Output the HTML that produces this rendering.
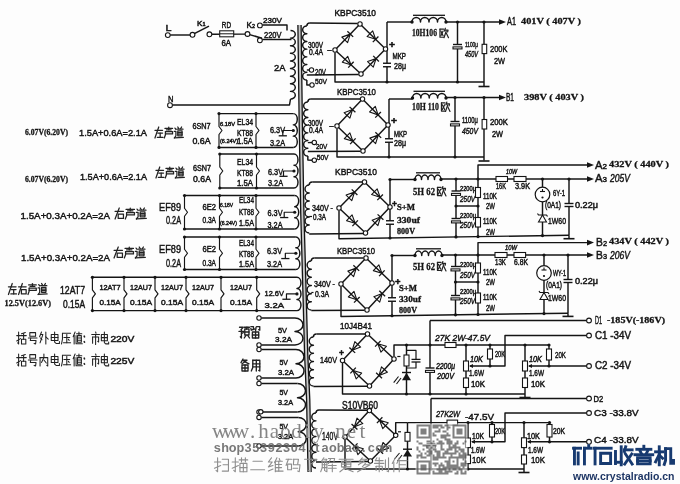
<!DOCTYPE html>
<html><head><meta charset="utf-8"><style>
html,body{margin:0;padding:0;background:#fff;width:680px;height:484px;overflow:hidden;}
svg{display:block;will-change:transform;}
</style></head><body>
<svg width="680" height="484" viewBox="0 0 680 484">
<rect width="680" height="484" fill="#fdfdfd"/>
<polygon points="297.90,25 299.20,125 300.70,212 303.00,295 304.60,355 306.60,400 308.06,472 311.26,472 309.80,400 307.80,355 306.20,295 303.90,212 302.40,125 301.10,25" fill="#c8c8c8"/><polyline points="297.9,25 299.2,125 300.7,212 303.0,295 304.6,355 306.6,400 308.06,472" fill="none" stroke="#141414" stroke-width="1.3" stroke-linejoin="round"/><polyline points="301.1,25 302.4,125 303.9,212 306.2,295 307.8,355 309.8,400 311.26,472" fill="none" stroke="#141414" stroke-width="1.3" stroke-linejoin="round"/><line x1="170.2" y1="35" x2="190.2" y2="35" stroke="#141414" stroke-width="1.45"/><line x1="194.3" y1="33.6" x2="209" y2="26.2" stroke="#141414" stroke-width="1.45"/><line x1="211.8" y1="34.2" x2="245.2" y2="34.1" stroke="#141414" stroke-width="1.45"/><rect x="219.7" y="30.8" width="14" height="6" fill="#fff" stroke="#1c1c1c" stroke-width="1.1"/><line x1="219.7" y1="33.8" x2="233.7" y2="33.8" stroke="#141414" stroke-width="1.0"/><line x1="249.6" y1="34.6" x2="262" y2="38.2" stroke="#141414" stroke-width="1.45"/><polyline points="262.3,25 287,25 287,30.5" fill="none" stroke="#141414" stroke-width="1.45" stroke-linejoin="round"/><polyline points="262.3,39.5 291.5,39.5" fill="none" stroke="#141414" stroke-width="1.45" stroke-linejoin="round"/><path d="M290.5,30.5 A4.8,3.8055555555555554 0 0 1 290.5,38.111111111111114 A4.8,3.8055555555555554 0 0 1 290.5,45.72222222222222 A4.8,3.8055555555555554 0 0 1 290.5,53.33333333333333 A4.8,3.8055555555555554 0 0 1 290.5,60.94444444444444 A4.8,3.8055555555555554 0 0 1 290.5,68.55555555555556 A4.8,3.8055555555555554 0 0 1 290.5,76.16666666666666 A4.8,3.8055555555555554 0 0 1 290.5,83.77777777777777 A4.8,3.8055555555555554 0 0 1 290.5,91.38888888888889 A4.8,3.8055555555555554 0 0 1 290.5,99.0 " fill="none" stroke="#141414" stroke-width="1.45" stroke-linejoin="round"/><polyline points="172.4,105 289.5,105 290.5,99" fill="none" stroke="#141414" stroke-width="1.45" stroke-linejoin="round"/><text x="165.5" y="30.6" font-family="Liberation Sans" font-size="9.17" font-weight="normal" font-style="normal" fill="#141414" textLength="6.0" lengthAdjust="spacingAndGlyphs" stroke="#141414" stroke-width="0.45">L</text><text x="197" y="25.6" font-family="Liberation Sans" font-size="7.36" font-weight="normal" font-style="normal" fill="#141414" textLength="8.5" lengthAdjust="spacingAndGlyphs" stroke="#141414" stroke-width="0.45">K<tspan font-size="5">1</tspan></text><text x="221.8" y="27.5" font-family="Liberation Sans" font-size="8.61" font-weight="normal" font-style="normal" fill="#141414" textLength="9.2" lengthAdjust="spacingAndGlyphs" stroke="#141414" stroke-width="0.45">RD</text><text x="221.4" y="46" font-family="Liberation Sans" font-size="8.33" font-weight="normal" font-style="normal" fill="#141414" textLength="9.6" lengthAdjust="spacingAndGlyphs" stroke="#141414" stroke-width="0.45">6A</text><text x="246.5" y="27.5" font-family="Liberation Sans" font-size="8.61" font-weight="normal" font-style="normal" fill="#141414" textLength="8.5" lengthAdjust="spacingAndGlyphs" stroke="#141414" stroke-width="0.45">K<tspan font-size="5.5">2</tspan></text><text x="263" y="23.4" font-family="Liberation Sans" font-size="7.78" font-weight="normal" font-style="normal" fill="#141414" textLength="19.0" lengthAdjust="spacingAndGlyphs" stroke="#141414" stroke-width="0.45">230V</text><text x="264" y="37.6" font-family="Liberation Sans" font-size="8.33" font-weight="normal" font-style="normal" fill="#141414" textLength="17.5" lengthAdjust="spacingAndGlyphs" stroke="#141414" stroke-width="0.45">220V</text><text x="274" y="71" font-family="Liberation Sans" font-size="9.72" font-weight="normal" font-style="normal" fill="#141414" textLength="11.5" lengthAdjust="spacingAndGlyphs" stroke="#141414" stroke-width="0.45">2A</text><text x="168" y="101.5" font-family="Liberation Sans" font-size="9.72" font-weight="normal" font-style="normal" fill="#141414" textLength="5.5" lengthAdjust="spacingAndGlyphs" stroke="#141414" stroke-width="0.45">N</text><line x1="219" y1="113.6" x2="293.2948275862069" y2="113.6" stroke="#141414" stroke-width="1.45"/><line x1="219" y1="147.4" x2="293.2948275862069" y2="147.4" stroke="#141414" stroke-width="1.45"/><path d="M293.2948275862069,113.6 A4,5.6333333333333355 0 0 1 293.2948275862069,124.86666666666666 A4,5.6333333333333355 0 0 1 293.2948275862069,136.13333333333333 A4,5.6333333333333355 0 0 1 293.2948275862069,147.4 " fill="none" stroke="#141414" stroke-width="1.45" stroke-linejoin="round"/><polyline points="219,113.6 219,126.5 222,130.5 219,134.5 219,147.4" fill="none" stroke="#141414" stroke-width="1.15" stroke-linejoin="round"/><circle cx="219" cy="113.6" r="1.6" fill="#141414"/><circle cx="219" cy="147.4" r="1.6" fill="#141414"/><polyline points="256,113.6 256,126.5 259,130.5 256,134.5 256,147.4" fill="none" stroke="#141414" stroke-width="1.15" stroke-linejoin="round"/><circle cx="256" cy="113.6" r="1.6" fill="#141414"/><circle cx="256" cy="147.4" r="1.6" fill="#141414"/><polyline points="293.2948275862069,130.5 282.7948275862069,130.5 282.7948275862069,135.8" fill="none" stroke="#141414" stroke-width="1.2" stroke-linejoin="round"/><line x1="278.6948275862069" y1="135.8" x2="286.89482758620693" y2="135.8" stroke="#141414" stroke-width="1.3"/><circle cx="293.2948275862069" cy="130.5" r="1.6" fill="#141414"/><line x1="219.8" y1="154" x2="293.99310344827586" y2="154" stroke="#141414" stroke-width="1.45"/><line x1="219.8" y1="188" x2="293.99310344827586" y2="188" stroke="#141414" stroke-width="1.45"/><path d="M293.99310344827586,154 A4,5.666666666666667 0 0 1 293.99310344827586,165.33333333333334 A4,5.666666666666667 0 0 1 293.99310344827586,176.66666666666666 A4,5.666666666666667 0 0 1 293.99310344827586,188.0 " fill="none" stroke="#141414" stroke-width="1.45" stroke-linejoin="round"/><polyline points="219.8,154 219.8,167.0 222.8,171.0 219.8,175.0 219.8,188" fill="none" stroke="#141414" stroke-width="1.15" stroke-linejoin="round"/><circle cx="219.8" cy="154" r="1.6" fill="#141414"/><circle cx="219.8" cy="188" r="1.6" fill="#141414"/><polyline points="256.5,154 256.5,167.0 259.5,171.0 256.5,175.0 256.5,188" fill="none" stroke="#141414" stroke-width="1.15" stroke-linejoin="round"/><circle cx="256.5" cy="154" r="1.6" fill="#141414"/><circle cx="256.5" cy="188" r="1.6" fill="#141414"/><polyline points="293.99310344827586,171.0 283.49310344827586,171.0 283.49310344827586,176.3" fill="none" stroke="#141414" stroke-width="1.2" stroke-linejoin="round"/><line x1="279.39310344827584" y1="176.3" x2="287.5931034482759" y2="176.3" stroke="#141414" stroke-width="1.3"/><circle cx="293.99310344827586" cy="171.0" r="1.6" fill="#141414"/><line x1="184.5" y1="195.5" x2="294.7069277108434" y2="195.5" stroke="#141414" stroke-width="1.45"/><line x1="184.5" y1="229" x2="294.7069277108434" y2="229" stroke="#141414" stroke-width="1.45"/><path d="M294.7069277108434,195.5 A4,5.583333333333333 0 0 1 294.7069277108434,206.66666666666666 A4,5.583333333333333 0 0 1 294.7069277108434,217.83333333333334 A4,5.583333333333333 0 0 1 294.7069277108434,229.0 " fill="none" stroke="#141414" stroke-width="1.45" stroke-linejoin="round"/><polyline points="184.5,195.5 184.5,208.25 187.5,212.25 184.5,216.25 184.5,229" fill="none" stroke="#141414" stroke-width="1.15" stroke-linejoin="round"/><circle cx="184.5" cy="195.5" r="1.6" fill="#141414"/><circle cx="184.5" cy="229" r="1.6" fill="#141414"/><polyline points="219.5,195.5 219.5,208.25 222.5,212.25 219.5,216.25 219.5,229" fill="none" stroke="#141414" stroke-width="1.15" stroke-linejoin="round"/><circle cx="219.5" cy="195.5" r="1.6" fill="#141414"/><circle cx="219.5" cy="229" r="1.6" fill="#141414"/><polyline points="256,195.5 256,208.25 259,212.25 256,216.25 256,229" fill="none" stroke="#141414" stroke-width="1.15" stroke-linejoin="round"/><circle cx="256" cy="195.5" r="1.6" fill="#141414"/><circle cx="256" cy="229" r="1.6" fill="#141414"/><polyline points="294.7069277108434,212.25 284.2069277108434,212.25 284.2069277108434,217.55" fill="none" stroke="#141414" stroke-width="1.2" stroke-linejoin="round"/><line x1="280.10692771084337" y1="217.55" x2="288.3069277108434" y2="217.55" stroke="#141414" stroke-width="1.3"/><circle cx="294.7069277108434" cy="212.25" r="1.6" fill="#141414"/><line x1="184.5" y1="237" x2="295.8430722891566" y2="237" stroke="#141414" stroke-width="1.45"/><line x1="184.5" y1="269.5" x2="295.8430722891566" y2="269.5" stroke="#141414" stroke-width="1.45"/><path d="M295.8430722891566,237 A4,5.416666666666667 0 0 1 295.8430722891566,247.83333333333334 A4,5.416666666666667 0 0 1 295.8430722891566,258.6666666666667 A4,5.416666666666667 0 0 1 295.8430722891566,269.5 " fill="none" stroke="#141414" stroke-width="1.45" stroke-linejoin="round"/><polyline points="184.5,237 184.5,249.25 187.5,253.25 184.5,257.25 184.5,269.5" fill="none" stroke="#141414" stroke-width="1.15" stroke-linejoin="round"/><circle cx="184.5" cy="237" r="1.6" fill="#141414"/><circle cx="184.5" cy="269.5" r="1.6" fill="#141414"/><polyline points="219.5,237 219.5,249.25 222.5,253.25 219.5,257.25 219.5,269.5" fill="none" stroke="#141414" stroke-width="1.15" stroke-linejoin="round"/><circle cx="219.5" cy="237" r="1.6" fill="#141414"/><circle cx="219.5" cy="269.5" r="1.6" fill="#141414"/><polyline points="256,237 256,249.25 259,253.25 256,257.25 256,269.5" fill="none" stroke="#141414" stroke-width="1.15" stroke-linejoin="round"/><circle cx="256" cy="237" r="1.6" fill="#141414"/><circle cx="256" cy="269.5" r="1.6" fill="#141414"/><polyline points="295.8430722891566,253.25 285.3430722891566,253.25 285.3430722891566,258.55" fill="none" stroke="#141414" stroke-width="1.2" stroke-linejoin="round"/><line x1="281.2430722891566" y1="258.55" x2="289.44307228915665" y2="258.55" stroke="#141414" stroke-width="1.3"/><circle cx="295.8430722891566" cy="253.25" r="1.6" fill="#141414"/><line x1="92.4" y1="277.3" x2="296.9709036144578" y2="277.3" stroke="#141414" stroke-width="1.45"/><line x1="92.4" y1="310.6" x2="296.9709036144578" y2="310.6" stroke="#141414" stroke-width="1.45"/><path d="M296.9709036144578,277.3 A4,5.550000000000002 0 0 1 296.9709036144578,288.40000000000003 A4,5.550000000000002 0 0 1 296.9709036144578,299.5 A4,5.550000000000002 0 0 1 296.9709036144578,310.6 " fill="none" stroke="#141414" stroke-width="1.45" stroke-linejoin="round"/><polyline points="92.4,277.3 92.4,289.95000000000005 95.4,293.95000000000005 92.4,297.95000000000005 92.4,310.6" fill="none" stroke="#141414" stroke-width="1.15" stroke-linejoin="round"/><circle cx="92.4" cy="277.3" r="1.6" fill="#141414"/><circle cx="92.4" cy="310.6" r="1.6" fill="#141414"/><polyline points="124,277.3 124,289.95000000000005 127,293.95000000000005 124,297.95000000000005 124,310.6" fill="none" stroke="#141414" stroke-width="1.15" stroke-linejoin="round"/><circle cx="124" cy="277.3" r="1.6" fill="#141414"/><circle cx="124" cy="310.6" r="1.6" fill="#141414"/><polyline points="155,277.3 155,289.95000000000005 158,293.95000000000005 155,297.95000000000005 155,310.6" fill="none" stroke="#141414" stroke-width="1.15" stroke-linejoin="round"/><circle cx="155" cy="277.3" r="1.6" fill="#141414"/><circle cx="155" cy="310.6" r="1.6" fill="#141414"/><polyline points="186,277.3 186,289.95000000000005 189,293.95000000000005 186,297.95000000000005 186,310.6" fill="none" stroke="#141414" stroke-width="1.15" stroke-linejoin="round"/><circle cx="186" cy="277.3" r="1.6" fill="#141414"/><circle cx="186" cy="310.6" r="1.6" fill="#141414"/><polyline points="221,277.3 221,289.95000000000005 224,293.95000000000005 221,297.95000000000005 221,310.6" fill="none" stroke="#141414" stroke-width="1.15" stroke-linejoin="round"/><circle cx="221" cy="277.3" r="1.6" fill="#141414"/><circle cx="221" cy="310.6" r="1.6" fill="#141414"/><polyline points="256.7,277.3 256.7,289.95000000000005 259.7,293.95000000000005 256.7,297.95000000000005 256.7,310.6" fill="none" stroke="#141414" stroke-width="1.15" stroke-linejoin="round"/><circle cx="256.7" cy="277.3" r="1.6" fill="#141414"/><circle cx="256.7" cy="310.6" r="1.6" fill="#141414"/><polyline points="296.9709036144578,293.95000000000005 286.4709036144578,293.95000000000005 286.4709036144578,299.25000000000006" fill="none" stroke="#141414" stroke-width="1.2" stroke-linejoin="round"/><line x1="282.3709036144578" y1="299.25000000000006" x2="290.57090361445785" y2="299.25000000000006" stroke="#141414" stroke-width="1.3"/><circle cx="296.9709036144578" cy="293.95000000000005" r="1.6" fill="#141414"/><text x="192.4" y="129.1" font-family="Liberation Sans" font-size="8.61" font-weight="normal" font-style="normal" fill="#141414" textLength="18.2" lengthAdjust="spacingAndGlyphs" stroke="#141414" stroke-width="0.45">6SN7</text><text x="192.4" y="143.5" font-family="Liberation Sans" font-size="8.61" font-weight="normal" font-style="normal" fill="#141414" textLength="18.2" lengthAdjust="spacingAndGlyphs" stroke="#141414" stroke-width="0.45">0.6A</text><text x="220" y="126" font-family="Liberation Sans" font-size="6.25" font-weight="normal" font-style="normal" fill="#141414" textLength="15.0" lengthAdjust="spacingAndGlyphs" stroke="#141414" stroke-width="0.45">6.18V</text><text x="220" y="142.5" font-family="Liberation Sans" font-size="6.25" font-weight="normal" font-style="normal" fill="#141414" textLength="18.0" lengthAdjust="spacingAndGlyphs" stroke="#141414" stroke-width="0.45">(6.24V)</text><text x="237" y="125.1" font-family="Liberation Sans" font-size="8.61" font-weight="normal" font-style="normal" fill="#141414" textLength="16.0" lengthAdjust="spacingAndGlyphs" stroke="#141414" stroke-width="0.45">EL34</text><text x="237" y="144.1" font-family="Liberation Sans" font-size="8.61" font-weight="normal" font-style="normal" fill="#141414" textLength="16.0" lengthAdjust="spacingAndGlyphs" stroke="#141414" stroke-width="0.45">1.5A</text><text x="237" y="135.7" font-family="Liberation Sans" font-size="8.61" font-weight="normal" font-style="normal" fill="#141414" textLength="16.0" lengthAdjust="spacingAndGlyphs" stroke="#141414" stroke-width="0.45">KT88</text><text x="270" y="133.1" font-family="Liberation Sans" font-size="8.61" font-weight="normal" font-style="normal" fill="#141414" textLength="15.0" lengthAdjust="spacingAndGlyphs" stroke="#141414" stroke-width="0.45">6.3V</text><text x="270" y="146.1" font-family="Liberation Sans" font-size="8.61" font-weight="normal" font-style="normal" fill="#141414" textLength="15.0" lengthAdjust="spacingAndGlyphs" stroke="#141414" stroke-width="0.45">3.2A</text><text x="193" y="170.7" font-family="Liberation Sans" font-size="8.61" font-weight="normal" font-style="normal" fill="#141414" textLength="18.0" lengthAdjust="spacingAndGlyphs" stroke="#141414" stroke-width="0.45">6SN7</text><text x="193" y="182.1" font-family="Liberation Sans" font-size="8.61" font-weight="normal" font-style="normal" fill="#141414" textLength="18.0" lengthAdjust="spacingAndGlyphs" stroke="#141414" stroke-width="0.45">0.6A</text><text x="237" y="165.1" font-family="Liberation Sans" font-size="8.61" font-weight="normal" font-style="normal" fill="#141414" textLength="16.0" lengthAdjust="spacingAndGlyphs" stroke="#141414" stroke-width="0.45">EL34</text><text x="237" y="186.1" font-family="Liberation Sans" font-size="8.61" font-weight="normal" font-style="normal" fill="#141414" textLength="16.0" lengthAdjust="spacingAndGlyphs" stroke="#141414" stroke-width="0.45">1.5A</text><text x="237" y="175.8" font-family="Liberation Sans" font-size="8.75" font-weight="normal" font-style="normal" fill="#141414" textLength="16.0" lengthAdjust="spacingAndGlyphs" stroke="#141414" stroke-width="0.45">KT88</text><text x="268" y="175.1" font-family="Liberation Sans" font-size="8.61" font-weight="normal" font-style="normal" fill="#141414" textLength="15.0" lengthAdjust="spacingAndGlyphs" stroke="#141414" stroke-width="0.45">6.3V</text><text x="268" y="186.1" font-family="Liberation Sans" font-size="8.61" font-weight="normal" font-style="normal" fill="#141414" textLength="15.0" lengthAdjust="spacingAndGlyphs" stroke="#141414" stroke-width="0.45">3.2A</text><text x="159" y="211" font-family="Liberation Sans" font-size="11.81" font-weight="normal" font-style="normal" fill="#141414" textLength="22.0" lengthAdjust="spacingAndGlyphs" stroke="#141414" stroke-width="0.45">EF89</text><text x="166" y="224" font-family="Liberation Sans" font-size="11.11" font-weight="normal" font-style="normal" fill="#141414" textLength="15.0" lengthAdjust="spacingAndGlyphs" stroke="#141414" stroke-width="0.45">0.2A</text><text x="202.5" y="210.1" font-family="Liberation Sans" font-size="8.61" font-weight="normal" font-style="normal" fill="#141414" textLength="13.5" lengthAdjust="spacingAndGlyphs" stroke="#141414" stroke-width="0.45">6E2</text><text x="202.5" y="223.1" font-family="Liberation Sans" font-size="8.61" font-weight="normal" font-style="normal" fill="#141414" textLength="13.5" lengthAdjust="spacingAndGlyphs" stroke="#141414" stroke-width="0.45">0.3A</text><text x="220" y="206.5" font-family="Liberation Sans" font-size="6.25" font-weight="normal" font-style="normal" fill="#141414" textLength="13.0" lengthAdjust="spacingAndGlyphs" stroke="#141414" stroke-width="0.45">6.18V</text><text x="220" y="224.5" font-family="Liberation Sans" font-size="6.25" font-weight="normal" font-style="normal" fill="#141414" textLength="17.0" lengthAdjust="spacingAndGlyphs" stroke="#141414" stroke-width="0.45">(6.24V)</text><text x="239" y="203.1" font-family="Liberation Sans" font-size="8.61" font-weight="normal" font-style="normal" fill="#141414" textLength="15.0" lengthAdjust="spacingAndGlyphs" stroke="#141414" stroke-width="0.45">EL34</text><text x="239" y="226.1" font-family="Liberation Sans" font-size="8.61" font-weight="normal" font-style="normal" fill="#141414" textLength="15.0" lengthAdjust="spacingAndGlyphs" stroke="#141414" stroke-width="0.45">1.5A</text><text x="239" y="215" font-family="Liberation Sans" font-size="8.33" font-weight="normal" font-style="normal" fill="#141414" textLength="15.0" lengthAdjust="spacingAndGlyphs" stroke="#141414" stroke-width="0.45">KT88</text><text x="267.5" y="216.1" font-family="Liberation Sans" font-size="8.61" font-weight="normal" font-style="normal" fill="#141414" textLength="15.0" lengthAdjust="spacingAndGlyphs" stroke="#141414" stroke-width="0.45">6.3V</text><text x="267.5" y="228.1" font-family="Liberation Sans" font-size="8.61" font-weight="normal" font-style="normal" fill="#141414" textLength="15.0" lengthAdjust="spacingAndGlyphs" stroke="#141414" stroke-width="0.45">3.2A</text><text x="159" y="253" font-family="Liberation Sans" font-size="11.81" font-weight="normal" font-style="normal" fill="#141414" textLength="22.0" lengthAdjust="spacingAndGlyphs" stroke="#141414" stroke-width="0.45">EF89</text><text x="166" y="266.5" font-family="Liberation Sans" font-size="11.11" font-weight="normal" font-style="normal" fill="#141414" textLength="15.0" lengthAdjust="spacingAndGlyphs" stroke="#141414" stroke-width="0.45">0.2A</text><text x="202.5" y="251.9" font-family="Liberation Sans" font-size="8.61" font-weight="normal" font-style="normal" fill="#141414" textLength="13.5" lengthAdjust="spacingAndGlyphs" stroke="#141414" stroke-width="0.45">6E2</text><text x="202.5" y="265.6" font-family="Liberation Sans" font-size="8.61" font-weight="normal" font-style="normal" fill="#141414" textLength="13.5" lengthAdjust="spacingAndGlyphs" stroke="#141414" stroke-width="0.45">0.3A</text><text x="239" y="246.1" font-family="Liberation Sans" font-size="8.61" font-weight="normal" font-style="normal" fill="#141414" textLength="15.0" lengthAdjust="spacingAndGlyphs" stroke="#141414" stroke-width="0.45">EL34</text><text x="239" y="267.1" font-family="Liberation Sans" font-size="8.61" font-weight="normal" font-style="normal" fill="#141414" textLength="15.0" lengthAdjust="spacingAndGlyphs" stroke="#141414" stroke-width="0.45">1.5A</text><text x="239" y="256.8" font-family="Liberation Sans" font-size="8.47" font-weight="normal" font-style="normal" fill="#141414" textLength="15.0" lengthAdjust="spacingAndGlyphs" stroke="#141414" stroke-width="0.45">KT88</text><text x="267" y="254.1" font-family="Liberation Sans" font-size="8.61" font-weight="normal" font-style="normal" fill="#141414" textLength="15.0" lengthAdjust="spacingAndGlyphs" stroke="#141414" stroke-width="0.45">6.3V</text><text x="267" y="267.1" font-family="Liberation Sans" font-size="8.61" font-weight="normal" font-style="normal" fill="#141414" textLength="15.0" lengthAdjust="spacingAndGlyphs" stroke="#141414" stroke-width="0.45">3.2A</text><text x="60" y="293.5" font-family="Liberation Sans" font-size="10.42" font-weight="normal" font-style="normal" fill="#141414" textLength="25.0" lengthAdjust="spacingAndGlyphs" stroke="#141414" stroke-width="0.45">12AT7</text><text x="63" y="307.5" font-family="Liberation Sans" font-size="10.42" font-weight="normal" font-style="normal" fill="#141414" textLength="22.0" lengthAdjust="spacingAndGlyphs" stroke="#141414" stroke-width="0.45">0.15A</text><text x="99.4" y="289.8" font-family="Liberation Sans" font-size="7.78" font-weight="normal" font-style="normal" fill="#141414" textLength="21.2" lengthAdjust="spacingAndGlyphs" stroke="#141414" stroke-width="0.45">12AT7</text><text x="99.4" y="305.3" font-family="Liberation Sans" font-size="7.78" font-weight="normal" font-style="normal" fill="#141414" textLength="21.2" lengthAdjust="spacingAndGlyphs" stroke="#141414" stroke-width="0.45">0.15A</text><text x="130" y="289.8" font-family="Liberation Sans" font-size="7.78" font-weight="normal" font-style="normal" fill="#141414" textLength="22.0" lengthAdjust="spacingAndGlyphs" stroke="#141414" stroke-width="0.45">12AU7</text><text x="130" y="305.3" font-family="Liberation Sans" font-size="7.78" font-weight="normal" font-style="normal" fill="#141414" textLength="22.0" lengthAdjust="spacingAndGlyphs" stroke="#141414" stroke-width="0.45">0.15A</text><text x="161" y="289.8" font-family="Liberation Sans" font-size="7.78" font-weight="normal" font-style="normal" fill="#141414" textLength="22.0" lengthAdjust="spacingAndGlyphs" stroke="#141414" stroke-width="0.45">12AU7</text><text x="161" y="305.3" font-family="Liberation Sans" font-size="7.78" font-weight="normal" font-style="normal" fill="#141414" textLength="22.0" lengthAdjust="spacingAndGlyphs" stroke="#141414" stroke-width="0.45">0.15A</text><text x="192" y="289.8" font-family="Liberation Sans" font-size="7.78" font-weight="normal" font-style="normal" fill="#141414" textLength="22.0" lengthAdjust="spacingAndGlyphs" stroke="#141414" stroke-width="0.45">12AU7</text><text x="192" y="305.3" font-family="Liberation Sans" font-size="7.78" font-weight="normal" font-style="normal" fill="#141414" textLength="22.0" lengthAdjust="spacingAndGlyphs" stroke="#141414" stroke-width="0.45">0.15A</text><text x="230" y="289.8" font-family="Liberation Sans" font-size="7.78" font-weight="normal" font-style="normal" fill="#141414" textLength="22.0" lengthAdjust="spacingAndGlyphs" stroke="#141414" stroke-width="0.45">12AU7</text><text x="230" y="305.3" font-family="Liberation Sans" font-size="7.78" font-weight="normal" font-style="normal" fill="#141414" textLength="22.0" lengthAdjust="spacingAndGlyphs" stroke="#141414" stroke-width="0.45">0.15A</text><text x="264.5" y="295.9" font-family="Liberation Sans" font-size="8.06" font-weight="normal" font-style="normal" fill="#141414" textLength="19.5" lengthAdjust="spacingAndGlyphs" stroke="#141414" stroke-width="0.45">12.6V</text><text x="264.5" y="307.5" font-family="Liberation Sans" font-size="8.06" font-weight="normal" font-style="normal" fill="#141414" textLength="19.5" lengthAdjust="spacingAndGlyphs" stroke="#141414" stroke-width="0.45">3.2A</text><text x="25" y="134.7" font-family="Liberation Serif" font-size="8.64" font-weight="bold" font-style="normal" fill="#141414" textLength="43.0" lengthAdjust="spacingAndGlyphs" stroke="#141414" stroke-width="0.3">6.07V(6.20V)</text><text x="25" y="182.2" font-family="Liberation Serif" font-size="8.64" font-weight="bold" font-style="normal" fill="#141414" textLength="43.0" lengthAdjust="spacingAndGlyphs" stroke="#141414" stroke-width="0.3">6.07V(6.20V)</text><text x="79" y="135.5" font-family="Liberation Sans" font-size="9.72" font-weight="normal" font-style="normal" fill="#141414" textLength="68.0" lengthAdjust="spacingAndGlyphs" stroke="#141414" stroke-width="0.45">1.5A+0.6A=2.1A</text><text x="80" y="179.5" font-family="Liberation Sans" font-size="9.72" font-weight="normal" font-style="normal" fill="#141414" textLength="67.0" lengthAdjust="spacingAndGlyphs" stroke="#141414" stroke-width="0.45">1.5A+0.6A=2.1A</text><text x="20.5" y="218.5" font-family="Liberation Sans" font-size="9.72" font-weight="normal" font-style="normal" fill="#141414" textLength="89.5" lengthAdjust="spacingAndGlyphs" stroke="#141414" stroke-width="0.45">1.5A+0.3A+0.2A=2A</text><text x="21" y="260.5" font-family="Liberation Sans" font-size="9.72" font-weight="normal" font-style="normal" fill="#141414" textLength="89.0" lengthAdjust="spacingAndGlyphs" stroke="#141414" stroke-width="0.45">1.5A+0.3A+0.2A=2A</text><text x="4.5" y="305.5" font-family="Liberation Serif" font-size="9.09" font-weight="bold" font-style="normal" fill="#141414" textLength="46.5" lengthAdjust="spacingAndGlyphs" stroke="#141414" stroke-width="0.3">12.5V(12.6V)</text><g fill="none" stroke="#222" stroke-width="1.25" stroke-linecap="round" stroke-linejoin="round"><polyline points="154.95,130.30 162.55,130.30"/><polyline points="158.75,127.00 154.95,138.00"/><polyline points="157.80,133.05 162.55,133.05"/><polyline points="160.18,133.05 160.18,137.45"/><polyline points="157.32,137.45 163.03,137.45"/></g><g fill="none" stroke="#222" stroke-width="1.25" stroke-linecap="round" stroke-linejoin="round"><polyline points="168.75,127.00 168.75,129.75"/><polyline points="164.95,128.43 172.55,128.43"/><polyline points="166.38,129.97 171.12,129.97"/><polyline points="165.43,131.62 172.55,131.62 172.55,133.93 165.43,133.93"/><polyline points="165.43,131.62 165.43,134.70 164.28,138.00"/></g><g fill="none" stroke="#222" stroke-width="1.25" stroke-linecap="round" stroke-linejoin="round"><polyline points="174.95,128.10 175.90,129.42"/><polyline points="174.28,131.40 175.90,131.40 175.90,135.80 174.28,138.00"/><polyline points="174.47,137.78 183.31,137.45"/><polyline points="177.80,127.00 178.75,128.65"/><polyline points="181.60,127.00 180.65,128.65"/><polyline points="176.85,129.20 183.03,129.20"/><polyline points="177.80,130.85 182.07,130.85 182.07,135.80 177.80,135.80 177.80,130.85"/><polyline points="177.80,132.50 182.07,132.50"/><polyline points="177.80,134.15 182.07,134.15"/></g><g fill="none" stroke="#222" stroke-width="1.25" stroke-linecap="round" stroke-linejoin="round"><polyline points="155.95,170.30 163.55,170.30"/><polyline points="159.75,167.00 155.95,178.00"/><polyline points="158.80,173.05 163.55,173.05"/><polyline points="161.18,173.05 161.18,177.45"/><polyline points="158.32,177.45 164.03,177.45"/></g><g fill="none" stroke="#222" stroke-width="1.25" stroke-linecap="round" stroke-linejoin="round"><polyline points="169.75,167.00 169.75,169.75"/><polyline points="165.95,168.43 173.55,168.43"/><polyline points="167.38,169.97 172.12,169.97"/><polyline points="166.43,171.62 173.55,171.62 173.55,173.93 166.43,173.93"/><polyline points="166.43,171.62 166.43,174.70 165.28,178.00"/></g><g fill="none" stroke="#222" stroke-width="1.25" stroke-linecap="round" stroke-linejoin="round"><polyline points="175.95,168.10 176.90,169.42"/><polyline points="175.28,171.40 176.90,171.40 176.90,175.80 175.28,178.00"/><polyline points="175.47,177.78 184.31,177.45"/><polyline points="178.80,167.00 179.75,168.65"/><polyline points="182.60,167.00 181.65,168.65"/><polyline points="177.85,169.20 184.03,169.20"/><polyline points="178.80,170.85 183.07,170.85 183.07,175.80 178.80,175.80 178.80,170.85"/><polyline points="178.80,172.50 183.07,172.50"/><polyline points="178.80,174.15 183.07,174.15"/></g><g fill="none" stroke="#222" stroke-width="1.25" stroke-linecap="round" stroke-linejoin="round"><polyline points="115.05,211.30 123.45,211.30"/><polyline points="119.25,208.00 115.05,219.00"/><polyline points="118.20,214.05 123.45,214.05 123.45,218.45 118.20,218.45 118.20,214.05"/></g><g fill="none" stroke="#222" stroke-width="1.25" stroke-linecap="round" stroke-linejoin="round"><polyline points="130.25,208.00 130.25,210.75"/><polyline points="126.05,209.43 134.45,209.43"/><polyline points="127.62,210.97 132.88,210.97"/><polyline points="126.58,212.62 134.45,212.62 134.45,214.93 126.58,214.93"/><polyline points="126.58,212.62 126.58,215.70 125.31,219.00"/></g><g fill="none" stroke="#222" stroke-width="1.25" stroke-linecap="round" stroke-linejoin="round"><polyline points="137.05,209.10 138.10,210.42"/><polyline points="136.31,212.40 138.10,212.40 138.10,216.80 136.31,219.00"/><polyline points="136.53,218.78 146.29,218.45"/><polyline points="140.20,208.00 141.25,209.65"/><polyline points="144.40,208.00 143.35,209.65"/><polyline points="139.15,210.20 145.97,210.20"/><polyline points="140.20,211.85 144.93,211.85 144.93,216.80 140.20,216.80 140.20,211.85"/><polyline points="140.20,213.50 144.93,213.50"/><polyline points="140.20,215.15 144.93,215.15"/></g><g fill="none" stroke="#222" stroke-width="1.25" stroke-linecap="round" stroke-linejoin="round"><polyline points="114.05,250.30 122.45,250.30"/><polyline points="118.25,247.00 114.05,258.00"/><polyline points="117.20,253.05 122.45,253.05 122.45,257.45 117.20,257.45 117.20,253.05"/></g><g fill="none" stroke="#222" stroke-width="1.25" stroke-linecap="round" stroke-linejoin="round"><polyline points="129.25,247.00 129.25,249.75"/><polyline points="125.05,248.43 133.45,248.43"/><polyline points="126.62,249.97 131.88,249.97"/><polyline points="125.58,251.62 133.45,251.62 133.45,253.93 125.58,253.93"/><polyline points="125.58,251.62 125.58,254.70 124.31,258.00"/></g><g fill="none" stroke="#222" stroke-width="1.25" stroke-linecap="round" stroke-linejoin="round"><polyline points="136.05,248.10 137.10,249.42"/><polyline points="135.31,251.40 137.10,251.40 137.10,255.80 135.31,258.00"/><polyline points="135.53,257.78 145.29,257.45"/><polyline points="139.20,247.00 140.25,248.65"/><polyline points="143.40,247.00 142.35,248.65"/><polyline points="138.15,249.20 144.97,249.20"/><polyline points="139.20,250.85 143.93,250.85 143.93,255.80 139.20,255.80 139.20,250.85"/><polyline points="139.20,252.50 143.93,252.50"/><polyline points="139.20,254.15 143.93,254.15"/></g><g fill="none" stroke="#222" stroke-width="1.25" stroke-linecap="round" stroke-linejoin="round"><polyline points="8.45,286.80 16.05,286.80"/><polyline points="12.25,283.50 8.45,294.50"/><polyline points="11.30,289.55 16.05,289.55"/><polyline points="13.68,289.55 13.68,293.95"/><polyline points="10.82,293.95 16.52,293.95"/></g><g fill="none" stroke="#222" stroke-width="1.25" stroke-linecap="round" stroke-linejoin="round"><polyline points="18.55,286.80 26.15,286.80"/><polyline points="22.35,283.50 18.55,294.50"/><polyline points="21.40,289.55 26.15,289.55 26.15,293.95 21.40,293.95 21.40,289.55"/></g><g fill="none" stroke="#222" stroke-width="1.25" stroke-linecap="round" stroke-linejoin="round"><polyline points="32.45,283.50 32.45,286.25"/><polyline points="28.65,284.93 36.25,284.93"/><polyline points="30.08,286.47 34.83,286.47"/><polyline points="29.13,288.12 36.25,288.12 36.25,290.43 29.13,290.43"/><polyline points="29.13,288.12 29.13,291.20 27.99,294.50"/></g><g fill="none" stroke="#222" stroke-width="1.25" stroke-linecap="round" stroke-linejoin="round"><polyline points="38.75,284.60 39.70,285.92"/><polyline points="38.09,287.90 39.70,287.90 39.70,292.30 38.09,294.50"/><polyline points="38.28,294.28 47.11,293.95"/><polyline points="41.60,283.50 42.55,285.15"/><polyline points="45.40,283.50 44.45,285.15"/><polyline points="40.65,285.70 46.83,285.70"/><polyline points="41.60,287.35 45.88,287.35 45.88,292.30 41.60,292.30 41.60,287.35"/><polyline points="41.60,289.00 45.88,289.00"/><polyline points="41.60,290.65 45.88,290.65"/></g><g fill="none" stroke="#222" stroke-width="1.05" stroke-linecap="round" stroke-linejoin="round"><polyline points="16.70,335.60 20.54,335.60"/><polyline points="18.62,332.00 18.62,344.00 17.66,342.80"/><polyline points="16.70,341.00 20.54,338.60"/><polyline points="25.34,332.60 21.50,333.80"/><polyline points="21.02,335.60 26.30,335.60"/><polyline points="23.61,333.56 23.61,339.20"/><polyline points="21.50,339.20 25.82,339.20 25.82,344.00 21.50,344.00 21.50,339.20"/></g><g fill="none" stroke="#222" stroke-width="1.05" stroke-linecap="round" stroke-linejoin="round"><polyline points="29.82,332.60 35.58,332.60 35.58,336.20 29.82,336.20 29.82,332.60"/><polyline points="28.38,338.00 37.02,338.00"/><polyline points="30.78,338.00 30.30,340.40 36.06,340.40 35.58,344.00 34.14,343.40"/></g><g fill="none" stroke="#222" stroke-width="1.05" stroke-linecap="round" stroke-linejoin="round"><polyline points="41.50,332.00 39.58,336.80"/><polyline points="40.54,334.40 42.94,334.40 40.06,342.80"/><polyline points="40.54,338.00 41.98,339.80"/><polyline points="45.82,332.00 45.82,344.00"/><polyline points="45.82,336.80 48.22,339.20"/></g><g fill="none" stroke="#222" stroke-width="1.05" stroke-linecap="round" stroke-linejoin="round"><polyline points="51.26,334.40 57.98,334.40 57.98,340.40 51.26,340.40 51.26,334.40"/><polyline points="51.26,337.40 57.98,337.40"/><polyline points="54.62,332.00 54.62,342.20 56.06,343.40 59.42,343.40 59.42,341.60"/></g><g fill="none" stroke="#222" stroke-width="1.05" stroke-linecap="round" stroke-linejoin="round"><polyline points="62.46,333.20 70.62,333.20"/><polyline points="62.46,333.20 62.46,339.20 61.50,344.00"/><polyline points="63.90,337.40 69.66,337.40"/><polyline points="66.78,334.40 66.78,342.80"/><polyline points="63.42,342.80 70.62,342.80"/><polyline points="68.22,339.20 69.18,340.40"/></g><g fill="none" stroke="#222" stroke-width="1.05" stroke-linecap="round" stroke-linejoin="round"><polyline points="75.10,332.00 73.18,336.80"/><polyline points="74.14,335.60 74.14,344.00"/><polyline points="76.54,333.80 81.82,333.80"/><polyline points="78.94,332.00 78.94,335.60"/><polyline points="77.50,335.60 81.34,335.60 81.34,342.20 77.50,342.20 77.50,335.60"/><polyline points="77.50,338.00 81.34,338.00"/><polyline points="77.50,340.16 81.34,340.16"/><polyline points="76.06,335.60 76.06,343.76 82.30,343.76"/></g><g fill="none" stroke="#222" stroke-width="1.6" stroke-linecap="round" stroke-linejoin="round"><polyline points="84.20,336.20 84.50,336.80"/><polyline points="84.20,341.60 84.50,342.20"/></g><g fill="none" stroke="#222" stroke-width="1.05" stroke-linecap="round" stroke-linejoin="round"><polyline points="95.60,332.00 96.03,333.25"/><polyline points="91.73,334.50 99.47,334.50"/><polyline points="92.59,337.00 92.59,343.25"/><polyline points="92.59,337.00 98.61,337.00 98.61,342.00 97.75,341.38"/><polyline points="95.60,334.50 95.60,344.50"/></g><g fill="none" stroke="#222" stroke-width="1.05" stroke-linecap="round" stroke-linejoin="round"><polyline points="101.36,334.50 107.38,334.50 107.38,340.75 101.36,340.75 101.36,334.50"/><polyline points="101.36,337.62 107.38,337.62"/><polyline points="104.37,332.00 104.37,342.62 105.66,343.88 108.67,343.88 108.67,342.00"/></g><text x="110.4" y="341.5" font-family="Liberation Sans" font-size="8.33" font-weight="normal" font-style="normal" fill="#141414" textLength="23.9" lengthAdjust="spacingAndGlyphs" stroke="#141414" stroke-width="0.45">220V</text><g fill="none" stroke="#222" stroke-width="1.05" stroke-linecap="round" stroke-linejoin="round"><polyline points="16.70,357.60 20.54,357.60"/><polyline points="18.62,354.00 18.62,366.00 17.66,364.80"/><polyline points="16.70,363.00 20.54,360.60"/><polyline points="25.34,354.60 21.50,355.80"/><polyline points="21.02,357.60 26.30,357.60"/><polyline points="23.61,355.56 23.61,361.20"/><polyline points="21.50,361.20 25.82,361.20 25.82,366.00 21.50,366.00 21.50,361.20"/></g><g fill="none" stroke="#222" stroke-width="1.05" stroke-linecap="round" stroke-linejoin="round"><polyline points="29.82,354.60 35.58,354.60 35.58,358.20 29.82,358.20 29.82,354.60"/><polyline points="28.38,360.00 37.02,360.00"/><polyline points="30.78,360.00 30.30,362.40 36.06,362.40 35.58,366.00 34.14,365.40"/></g><g fill="none" stroke="#222" stroke-width="1.05" stroke-linecap="round" stroke-linejoin="round"><polyline points="43.90,354.00 43.90,357.60"/><polyline points="40.06,357.60 40.06,366.00"/><polyline points="40.06,357.60 47.74,357.60 47.74,366.00 46.78,365.40"/><polyline points="43.90,357.60 41.50,362.40"/><polyline points="43.90,360.00 46.30,363.00"/></g><g fill="none" stroke="#222" stroke-width="1.05" stroke-linecap="round" stroke-linejoin="round"><polyline points="51.26,356.40 57.98,356.40 57.98,362.40 51.26,362.40 51.26,356.40"/><polyline points="51.26,359.40 57.98,359.40"/><polyline points="54.62,354.00 54.62,364.20 56.06,365.40 59.42,365.40 59.42,363.60"/></g><g fill="none" stroke="#222" stroke-width="1.05" stroke-linecap="round" stroke-linejoin="round"><polyline points="62.46,355.20 70.62,355.20"/><polyline points="62.46,355.20 62.46,361.20 61.50,366.00"/><polyline points="63.90,359.40 69.66,359.40"/><polyline points="66.78,356.40 66.78,364.80"/><polyline points="63.42,364.80 70.62,364.80"/><polyline points="68.22,361.20 69.18,362.40"/></g><g fill="none" stroke="#222" stroke-width="1.05" stroke-linecap="round" stroke-linejoin="round"><polyline points="75.10,354.00 73.18,358.80"/><polyline points="74.14,357.60 74.14,366.00"/><polyline points="76.54,355.80 81.82,355.80"/><polyline points="78.94,354.00 78.94,357.60"/><polyline points="77.50,357.60 81.34,357.60 81.34,364.20 77.50,364.20 77.50,357.60"/><polyline points="77.50,360.00 81.34,360.00"/><polyline points="77.50,362.16 81.34,362.16"/><polyline points="76.06,357.60 76.06,365.76 82.30,365.76"/></g><g fill="none" stroke="#222" stroke-width="1.6" stroke-linecap="round" stroke-linejoin="round"><polyline points="84.20,358.20 84.50,358.80"/><polyline points="84.20,363.60 84.50,364.20"/></g><g fill="none" stroke="#222" stroke-width="1.05" stroke-linecap="round" stroke-linejoin="round"><polyline points="95.60,354.00 96.03,355.25"/><polyline points="91.73,356.50 99.47,356.50"/><polyline points="92.59,359.00 92.59,365.25"/><polyline points="92.59,359.00 98.61,359.00 98.61,364.00 97.75,363.38"/><polyline points="95.60,356.50 95.60,366.50"/></g><g fill="none" stroke="#222" stroke-width="1.05" stroke-linecap="round" stroke-linejoin="round"><polyline points="101.36,356.50 107.38,356.50 107.38,362.75 101.36,362.75 101.36,356.50"/><polyline points="101.36,359.62 107.38,359.62"/><polyline points="104.37,354.00 104.37,364.62 105.66,365.88 108.67,365.88 108.67,364.00"/></g><text x="110.4" y="363.5" font-family="Liberation Sans" font-size="8.33" font-weight="normal" font-style="normal" fill="#141414" textLength="23.9" lengthAdjust="spacingAndGlyphs" stroke="#141414" stroke-width="0.45">225V</text><line x1="261.3" y1="318" x2="294.97333333333336" y2="318" stroke="#141414" stroke-width="1.45"/><line x1="261.3" y1="345" x2="294.97333333333336" y2="345" stroke="#141414" stroke-width="1.45"/><path d="M294.97333333333336,318 A8,6.75 0 0 1 294.97333333333336,331.5 A8,6.75 0 0 1 294.97333333333336,345" fill="none" stroke="#141414" stroke-width="1.45" stroke-linejoin="round"/><line x1="261.3" y1="349.5" x2="295.98888888888894" y2="349.5" stroke="#141414" stroke-width="1.45"/><line x1="261.3" y1="378" x2="295.98888888888894" y2="378" stroke="#141414" stroke-width="1.45"/><path d="M295.98888888888894,349.5 A8,7.125 0 0 1 295.98888888888894,363.75 A8,7.125 0 0 1 295.98888888888894,378" fill="none" stroke="#141414" stroke-width="1.45" stroke-linejoin="round"/><line x1="261.3" y1="383.5" x2="297.5" y2="383.5" stroke="#141414" stroke-width="1.45"/><line x1="261.3" y1="412" x2="297.5" y2="412" stroke="#141414" stroke-width="1.45"/><path d="M297.5,383.5 A8,7.125 0 0 1 297.5,397.75 A8,7.125 0 0 1 297.5,412" fill="none" stroke="#141414" stroke-width="1.45" stroke-linejoin="round"/><line x1="261.3" y1="417.4" x2="298.24154761904765" y2="417.4" stroke="#141414" stroke-width="1.45"/><line x1="261.3" y1="446" x2="298.24154761904765" y2="446" stroke="#141414" stroke-width="1.45"/><path d="M298.24154761904765,417.4 A8,7.150000000000006 0 0 1 298.24154761904765,431.7 A8,7.150000000000006 0 0 1 298.24154761904765,446" fill="none" stroke="#141414" stroke-width="1.45" stroke-linejoin="round"/><circle cx="259" cy="345" r="2" fill="#141414"/><text x="278" y="332.8" font-family="Liberation Sans" font-size="8.06" font-weight="normal" font-style="normal" fill="#141414" textLength="9.0" lengthAdjust="spacingAndGlyphs" stroke="#141414" stroke-width="0.45">5V</text><text x="275" y="342.2" font-family="Liberation Sans" font-size="7.78" font-weight="normal" font-style="normal" fill="#141414" textLength="17.0" lengthAdjust="spacingAndGlyphs" stroke="#141414" stroke-width="0.45">3.2A</text><text x="279.5" y="364.6" font-family="Liberation Sans" font-size="7.78" font-weight="normal" font-style="normal" fill="#141414" textLength="8.5" lengthAdjust="spacingAndGlyphs" stroke="#141414" stroke-width="0.45">5V</text><text x="278" y="374.5" font-family="Liberation Sans" font-size="7.64" font-weight="normal" font-style="normal" fill="#141414" textLength="16.0" lengthAdjust="spacingAndGlyphs" stroke="#141414" stroke-width="0.45">3.2A</text><text x="279.5" y="394.6" font-family="Liberation Sans" font-size="7.78" font-weight="normal" font-style="normal" fill="#141414" textLength="8.5" lengthAdjust="spacingAndGlyphs" stroke="#141414" stroke-width="0.45">5V</text><text x="278" y="404.5" font-family="Liberation Sans" font-size="7.64" font-weight="normal" font-style="normal" fill="#141414" textLength="15.0" lengthAdjust="spacingAndGlyphs" stroke="#141414" stroke-width="0.45">3.2A</text><text x="279.5" y="428.6" font-family="Liberation Sans" font-size="7.78" font-weight="normal" font-style="normal" fill="#141414" textLength="8.5" lengthAdjust="spacingAndGlyphs" stroke="#141414" stroke-width="0.45">5V</text><text x="278" y="438.5" font-family="Liberation Sans" font-size="7.64" font-weight="normal" font-style="normal" fill="#141414" textLength="15.0" lengthAdjust="spacingAndGlyphs" stroke="#141414" stroke-width="0.45">3.2A</text><g fill="none" stroke="#222" stroke-width="1.35" stroke-linecap="round" stroke-linejoin="round"><polyline points="239.53,327.20 243.20,327.20 241.10,329.60"/><polyline points="239.00,331.40 243.72,331.40 242.68,333.20"/><polyline points="241.41,329.60 241.41,338.00 240.37,336.80"/><polyline points="244.25,327.20 249.50,327.20"/><polyline points="246.88,327.20 246.35,329.00"/><polyline points="244.78,329.00 248.97,329.00 248.97,335.00 244.78,335.00 244.78,329.00"/><polyline points="244.78,332.00 248.97,332.00"/><polyline points="245.82,335.60 244.25,338.00"/><polyline points="247.93,335.60 249.50,338.00"/></g><g fill="none" stroke="#222" stroke-width="1.35" stroke-linecap="round" stroke-linejoin="round"><polyline points="250.83,326.60 253.45,326.60 253.45,328.40"/><polyline points="250.83,328.40 251.35,330.20 254.50,329.00"/><polyline points="256.60,326.60 259.75,326.60 259.75,330.20 258.70,329.60"/><polyline points="256.07,327.20 255.55,330.80"/><polyline points="252.40,332.00 258.70,332.00 258.70,338.00 252.40,338.00 252.40,332.00"/><polyline points="255.55,332.00 255.55,338.00"/><polyline points="252.40,335.00 258.70,335.00"/></g><g fill="none" stroke="#222" stroke-width="1.35" stroke-linecap="round" stroke-linejoin="round"><polyline points="243.00,359.00 241.00,362.60"/><polyline points="242.50,360.20 247.00,360.20 242.00,363.80"/><polyline points="244.00,361.40 249.00,363.80"/><polyline points="242.00,365.00 248.00,365.00 248.00,371.00 242.00,371.00 242.00,365.00"/><polyline points="245.00,365.00 245.00,371.00"/><polyline points="242.00,368.00 248.00,368.00"/></g><g fill="none" stroke="#222" stroke-width="1.35" stroke-linecap="round" stroke-linejoin="round"><polyline points="252.80,360.20 252.80,367.40 251.30,371.00"/><polyline points="252.80,360.20 259.80,360.20 259.80,371.00 258.80,370.40"/><polyline points="252.80,363.80 259.80,363.80"/><polyline points="252.80,366.80 259.80,366.80"/><polyline points="256.30,360.20 256.30,371.00"/></g><path d="M306.8444999999999,26 A4.2,3.857142857142857 0 0 0 306.8444999999999,33.714285714285715 A4.2,3.857142857142857 0 0 0 306.8444999999999,41.42857142857143 A4.2,3.857142857142857 0 0 0 306.8444999999999,49.14285714285714 A4.2,3.857142857142857 0 0 0 306.8444999999999,56.85714285714286 A4.2,3.857142857142857 0 0 0 306.8444999999999,64.57142857142857 A4.2,3.857142857142857 0 0 0 306.8444999999999,72.28571428571428 A4.2,3.857142857142857 0 0 0 306.8444999999999,80.0 " fill="none" stroke="#141414" stroke-width="1.45" stroke-linejoin="round"/><path d="M306.8444999999999,26 Q306.8444999999999,23 309.8444999999999,23" fill="none" stroke="#141414" stroke-width="1.45" stroke-linejoin="round"/><line x1="309.8444999999999" y1="23" x2="357.6" y2="23.5" stroke="#141414" stroke-width="1.45"/><line x1="335" y1="50" x2="360" y2="24" stroke="#141414" stroke-width="1.45"/><path d="M347.61,42.66 L341.84,37.11 L350.27,34.12 Z" fill="none" stroke="#141414" stroke-width="1.1" stroke-linejoin="round"/><line x1="353.16" y1="36.89" x2="347.39" y2="31.34" stroke="#141414" stroke-width="1.3"/><line x1="335" y1="50" x2="361" y2="74" stroke="#141414" stroke-width="1.45"/><path d="M342.35,62.23 L347.77,56.35 L350.94,64.71 Z" fill="none" stroke="#141414" stroke-width="1.1" stroke-linejoin="round"/><line x1="348.23" y1="67.65" x2="353.65" y2="61.77" stroke="#141414" stroke-width="1.3"/><line x1="360" y1="24" x2="385.5" y2="49" stroke="#141414" stroke-width="1.45"/><path d="M367.09,36.56 L372.69,30.84 L375.61,39.30 Z" fill="none" stroke="#141414" stroke-width="1.1" stroke-linejoin="round"/><line x1="372.81" y1="42.16" x2="378.41" y2="36.44" stroke="#141414" stroke-width="1.3"/><line x1="361" y1="74" x2="385.5" y2="49" stroke="#141414" stroke-width="1.45"/><path d="M373.31,67.16 L367.59,61.56 L376.05,58.64 Z" fill="none" stroke="#141414" stroke-width="1.1" stroke-linejoin="round"/><line x1="378.91" y1="61.44" x2="373.19" y2="55.84" stroke="#141414" stroke-width="1.3"/><line x1="306.8444999999999" y1="75" x2="358.6" y2="74.5" stroke="#141414" stroke-width="1.45"/><polyline points="335,52.4 335,82 484,82" fill="none" stroke="#141414" stroke-width="1.45" stroke-linejoin="round"/><polyline points="387,22 387,82" fill="none" stroke="#141414" stroke-width="1.45" stroke-linejoin="round"/><line x1="385.5" y1="49" x2="387" y2="49" stroke="#141414" stroke-width="1.45"/><rect x="383.0" y="63.25" width="8" height="3.5" fill="#fff"/><line x1="383.0" y1="63.25" x2="391.0" y2="63.25" stroke="#141414" stroke-width="1.4"/><line x1="383.0" y1="66.75" x2="391.0" y2="66.75" stroke="#141414" stroke-width="1.4"/><line x1="387" y1="22" x2="412" y2="22" stroke="#141414" stroke-width="1.45"/><path d="M412,22 A4.25,4.5 0 0 1 420.5,22 A4.25,4.5 0 0 1 429.0,22 A4.25,4.5 0 0 1 437.5,22 A4.25,4.5 0 0 1 446.0,22 " fill="none" stroke="#141414" stroke-width="1.45" stroke-linejoin="round"/><line x1="413" y1="15.3" x2="445" y2="15.3" stroke="#141414" stroke-width="1.3"/><circle cx="412" cy="22" r="1.7" fill="#141414"/><circle cx="446" cy="22" r="1.7" fill="#141414"/><line x1="446" y1="22" x2="500" y2="22" stroke="#141414" stroke-width="1.45"/><path d="M506,22 L499,19.2 L499,24.8 Z" fill="#141414"/><line x1="457.5" y1="22" x2="457.5" y2="82" stroke="#141414" stroke-width="1.45"/><rect x="453.0" y="44.5" width="9" height="3" fill="#fff"/><line x1="453.0" y1="44.5" x2="462.0" y2="44.5" stroke="#141414" stroke-width="1.4"/><rect x="453.0" y="46.9" width="9" height="2" fill="#fff" stroke="#141414" stroke-width="1.1"/><line x1="484" y1="22" x2="484" y2="82" stroke="#141414" stroke-width="1.45"/><rect x="482.09999999999997" y="44.3" width="4.6" height="9.300000000000004" fill="#fff" stroke="#141414" stroke-width="1.1"/><line x1="484" y1="82" x2="484" y2="86" stroke="#141414" stroke-width="1.45"/><line x1="478.5" y1="86.5" x2="489.5" y2="86.5" stroke="#141414" stroke-width="1.6"/><circle cx="457.5" cy="22" r="1.6" fill="#141414"/><circle cx="484" cy="22" r="1.6" fill="#141414"/><circle cx="457.5" cy="82" r="1.6" fill="#141414"/><circle cx="387" cy="82" r="1.6" fill="#141414"/><line x1="306.8444999999999" y1="70" x2="309.3" y2="70" stroke="#141414" stroke-width="1.45"/><polyline points="306.8444999999999,80 306.8444999999999,85 309.8,85" fill="none" stroke="#141414" stroke-width="1.45" stroke-linejoin="round"/><text x="308" y="48" font-family="Liberation Sans" font-size="8.33" font-weight="normal" font-style="normal" fill="#141414" textLength="15.0" lengthAdjust="spacingAndGlyphs" stroke="#141414" stroke-width="0.45">300V</text><text x="309" y="55" font-family="Liberation Sans" font-size="8.33" font-weight="normal" font-style="normal" fill="#141414" textLength="14.0" lengthAdjust="spacingAndGlyphs" stroke="#141414" stroke-width="0.45">0.4A</text><text x="315" y="74.6" font-family="Liberation Sans" font-size="8.47" font-weight="normal" font-style="normal" fill="#141414" textLength="11.0" lengthAdjust="spacingAndGlyphs" stroke="#141414" stroke-width="0.45">20V</text><text x="315" y="84" font-family="Liberation Sans" font-size="7.92" font-weight="normal" font-style="normal" fill="#141414" textLength="12.0" lengthAdjust="spacingAndGlyphs" stroke="#141414" stroke-width="0.45">50V</text><text x="334.5" y="16" font-family="Liberation Sans" font-size="9.03" font-weight="normal" font-style="normal" fill="#141414" textLength="41.5" lengthAdjust="spacingAndGlyphs" stroke="#141414" stroke-width="0.45">KBPC3510</text><text x="327" y="52" font-family="Liberation Sans" font-size="5.56" font-weight="normal" font-style="normal" fill="#141414" textLength="5.0" lengthAdjust="spacingAndGlyphs" stroke="#141414" stroke-width="0.45">-</text><text x="389" y="48" font-family="Liberation Sans" font-size="8.33" font-weight="bold" font-style="normal" fill="#141414" textLength="6.0" lengthAdjust="spacingAndGlyphs" stroke="#141414" stroke-width="0.45">+</text><text x="392.5" y="59" font-family="Liberation Sans" font-size="8.33" font-weight="normal" font-style="normal" fill="#141414" textLength="13.5" lengthAdjust="spacingAndGlyphs" stroke="#141414" stroke-width="0.45">MKP</text><text x="394" y="69" font-family="Liberation Sans" font-size="8.33" font-weight="normal" font-style="normal" fill="#141414" textLength="12.0" lengthAdjust="spacingAndGlyphs" stroke="#141414" stroke-width="0.45">28μ</text><text x="412" y="36" font-family="Liberation Serif" font-size="9.85" font-weight="bold" font-style="normal" fill="#141414" textLength="25.0" lengthAdjust="spacingAndGlyphs" stroke="#141414" stroke-width="0.3">10H106</text><g fill="none" stroke="#222" stroke-width="1.2" stroke-linecap="round" stroke-linejoin="round"><polyline points="439.95,29.15 443.55,29.15"/><polyline points="439.95,29.15 439.95,37.23 443.55,37.23"/><polyline points="440.85,31.05 443.10,35.80"/><polyline points="443.10,31.05 440.85,35.80"/><polyline points="445.35,28.20 444.45,31.05"/><polyline points="444.90,30.10 448.05,30.10 447.60,32.00"/><polyline points="446.25,31.05 444.00,37.70"/><polyline points="446.25,32.95 448.50,37.70"/></g><text x="465" y="46.5" font-family="Liberation Sans" font-size="7.64" font-weight="normal" font-style="normal" fill="#141414" textLength="13.0" lengthAdjust="spacingAndGlyphs" stroke="#141414" stroke-width="0.45">1100μ</text><text x="465" y="57" font-family="Liberation Sans" font-size="8.33" font-weight="normal" font-style="italic" fill="#141414" textLength="13.0" lengthAdjust="spacingAndGlyphs" stroke="#141414" stroke-width="0.45">450V</text><text x="490" y="52" font-family="Liberation Sans" font-size="9.03" font-weight="normal" font-style="normal" fill="#141414" textLength="17.5" lengthAdjust="spacingAndGlyphs" stroke="#141414" stroke-width="0.45">200K</text><text x="494" y="63.5" font-family="Liberation Sans" font-size="9.03" font-weight="normal" font-style="normal" fill="#141414" textLength="11.0" lengthAdjust="spacingAndGlyphs" stroke="#141414" stroke-width="0.45">2W</text><text x="507" y="24.5" font-family="Liberation Sans" font-size="10.42" font-weight="normal" font-style="normal" fill="#141414" textLength="9.0" lengthAdjust="spacingAndGlyphs" stroke="#141414" stroke-width="0.45">A1</text><text x="521" y="23.5" font-family="Liberation Serif" font-size="9.09" font-weight="bold" font-style="normal" fill="#141414" textLength="60.0" lengthAdjust="spacingAndGlyphs" stroke="#141414" stroke-width="0.3">401V ( 407V )</text><path d="M307.8431034482758,102 A4.2,3.857142857142857 0 0 0 307.8431034482758,109.71428571428571 A4.2,3.857142857142857 0 0 0 307.8431034482758,117.42857142857143 A4.2,3.857142857142857 0 0 0 307.8431034482758,125.14285714285714 A4.2,3.857142857142857 0 0 0 307.8431034482758,132.85714285714286 A4.2,3.857142857142857 0 0 0 307.8431034482758,140.57142857142856 A4.2,3.857142857142857 0 0 0 307.8431034482758,148.28571428571428 A4.2,3.857142857142857 0 0 0 307.8431034482758,156.0 " fill="none" stroke="#141414" stroke-width="1.45" stroke-linejoin="round"/><path d="M307.8431034482758,102 Q307.8431034482758,99 310.8431034482758,99" fill="none" stroke="#141414" stroke-width="1.45" stroke-linejoin="round"/><line x1="310.8431034482758" y1="99" x2="360.1" y2="99" stroke="#141414" stroke-width="1.45"/><line x1="337" y1="126" x2="362.5" y2="99" stroke="#141414" stroke-width="1.45"/><path d="M349.91,118.15 L344.10,112.66 L352.50,109.59 Z" fill="none" stroke="#141414" stroke-width="1.1" stroke-linejoin="round"/><line x1="355.4" y1="112.34" x2="349.59" y2="106.85" stroke="#141414" stroke-width="1.3"/><line x1="337" y1="126" x2="363" y2="151" stroke="#141414" stroke-width="1.45"/><path d="M344.34,138.61 L349.89,132.84 L352.88,141.27 Z" fill="none" stroke="#141414" stroke-width="1.1" stroke-linejoin="round"/><line x1="350.11" y1="144.16" x2="355.66" y2="138.39" stroke="#141414" stroke-width="1.3"/><line x1="362.5" y1="99" x2="388" y2="125" stroke="#141414" stroke-width="1.45"/><path d="M369.59,111.95 L375.30,106.34 L378.05,114.86 Z" fill="none" stroke="#141414" stroke-width="1.1" stroke-linejoin="round"/><line x1="375.2" y1="117.66" x2="380.91" y2="112.05" stroke="#141414" stroke-width="1.3"/><line x1="363" y1="151" x2="388" y2="125" stroke="#141414" stroke-width="1.45"/><path d="M375.61,143.66 L369.84,138.11 L378.27,135.12 Z" fill="none" stroke="#141414" stroke-width="1.1" stroke-linejoin="round"/><line x1="381.16" y1="137.89" x2="375.39" y2="132.34" stroke="#141414" stroke-width="1.3"/><line x1="307.8431034482758" y1="151.5" x2="360.6" y2="151.3" stroke="#141414" stroke-width="1.45"/><polyline points="337,128.4 337,157 484,157" fill="none" stroke="#141414" stroke-width="1.45" stroke-linejoin="round"/><polyline points="389,99 389,157" fill="none" stroke="#141414" stroke-width="1.45" stroke-linejoin="round"/><line x1="388" y1="125" x2="389" y2="125" stroke="#141414" stroke-width="1.45"/><rect x="385.0" y="138.75" width="8" height="3.5" fill="#fff"/><line x1="385.0" y1="138.75" x2="393.0" y2="138.75" stroke="#141414" stroke-width="1.4"/><line x1="385.0" y1="142.25" x2="393.0" y2="142.25" stroke="#141414" stroke-width="1.4"/><line x1="389" y1="99" x2="412.5" y2="99" stroke="#141414" stroke-width="1.45"/><path d="M412.5,98 A4.1875,4.5 0 0 1 420.875,98 A4.1875,4.5 0 0 1 429.25,98 A4.1875,4.5 0 0 1 437.625,98 A4.1875,4.5 0 0 1 446.0,98 " fill="none" stroke="#141414" stroke-width="1.45" stroke-linejoin="round"/><line x1="413.5" y1="91.3" x2="445" y2="91.3" stroke="#141414" stroke-width="1.3"/><circle cx="412.5" cy="98" r="1.7" fill="#141414"/><circle cx="446" cy="98" r="1.7" fill="#141414"/><polyline points="446,97.5 500,97.5" fill="none" stroke="#141414" stroke-width="1.45" stroke-linejoin="round"/><path d="M506,97.5 L499,94.7 L499,100.3 Z" fill="#141414"/><line x1="455" y1="97.5" x2="455" y2="157" stroke="#141414" stroke-width="1.45"/><rect x="450.5" y="121.5" width="9" height="3" fill="#fff"/><line x1="450.5" y1="121.5" x2="459.5" y2="121.5" stroke="#141414" stroke-width="1.4"/><rect x="450.5" y="123.9" width="9" height="2" fill="#fff" stroke="#141414" stroke-width="1.1"/><line x1="484" y1="97.5" x2="484" y2="157" stroke="#141414" stroke-width="1.45"/><rect x="482.09999999999997" y="119.5" width="4.6" height="9.5" fill="#fff" stroke="#141414" stroke-width="1.1"/><line x1="484" y1="157" x2="484" y2="160.5" stroke="#141414" stroke-width="1.45"/><line x1="478.5" y1="161" x2="489.5" y2="161" stroke="#141414" stroke-width="1.6"/><circle cx="455" cy="97.5" r="1.6" fill="#141414"/><circle cx="484" cy="97.5" r="1.6" fill="#141414"/><circle cx="455" cy="157" r="1.6" fill="#141414"/><circle cx="389" cy="157" r="1.6" fill="#141414"/><line x1="307.8431034482758" y1="142.6" x2="312.1" y2="142.5" stroke="#141414" stroke-width="1.45"/><polyline points="307.8431034482758,156 307.8431034482758,160 312.1,160.2" fill="none" stroke="#141414" stroke-width="1.45" stroke-linejoin="round"/><text x="308" y="126" font-family="Liberation Sans" font-size="8.33" font-weight="normal" font-style="normal" fill="#141414" textLength="15.0" lengthAdjust="spacingAndGlyphs" stroke="#141414" stroke-width="0.45">300V</text><text x="309" y="133" font-family="Liberation Sans" font-size="8.33" font-weight="normal" font-style="normal" fill="#141414" textLength="14.0" lengthAdjust="spacingAndGlyphs" stroke="#141414" stroke-width="0.45">0.4A</text><text x="316" y="149.4" font-family="Liberation Sans" font-size="8.06" font-weight="normal" font-style="normal" fill="#141414" textLength="11.4" lengthAdjust="spacingAndGlyphs" stroke="#141414" stroke-width="0.45">20V</text><text x="316.7" y="159.5" font-family="Liberation Sans" font-size="7.64" font-weight="normal" font-style="normal" fill="#141414" textLength="11.9" lengthAdjust="spacingAndGlyphs" stroke="#141414" stroke-width="0.45">50V</text><text x="337" y="95" font-family="Liberation Sans" font-size="9.72" font-weight="normal" font-style="normal" fill="#141414" textLength="39.0" lengthAdjust="spacingAndGlyphs" stroke="#141414" stroke-width="0.45">KBPC3510</text><text x="329" y="128" font-family="Liberation Sans" font-size="5.56" font-weight="normal" font-style="normal" fill="#141414" textLength="5.0" lengthAdjust="spacingAndGlyphs" stroke="#141414" stroke-width="0.45">-</text><text x="391" y="124" font-family="Liberation Sans" font-size="8.33" font-weight="bold" font-style="normal" fill="#141414" textLength="6.0" lengthAdjust="spacingAndGlyphs" stroke="#141414" stroke-width="0.45">+</text><text x="394" y="137" font-family="Liberation Sans" font-size="8.33" font-weight="normal" font-style="normal" fill="#141414" textLength="13.0" lengthAdjust="spacingAndGlyphs" stroke="#141414" stroke-width="0.45">MKP</text><text x="394" y="146" font-family="Liberation Sans" font-size="8.33" font-weight="normal" font-style="normal" fill="#141414" textLength="12.0" lengthAdjust="spacingAndGlyphs" stroke="#141414" stroke-width="0.45">28μ</text><text x="412" y="110" font-family="Liberation Serif" font-size="9.85" font-weight="bold" font-style="normal" fill="#141414" textLength="27.0" lengthAdjust="spacingAndGlyphs" stroke="#141414" stroke-width="0.3">10H 110</text><g fill="none" stroke="#222" stroke-width="1.2" stroke-linecap="round" stroke-linejoin="round"><polyline points="441.45,102.95 445.05,102.95"/><polyline points="441.45,102.95 441.45,111.03 445.05,111.03"/><polyline points="442.35,104.85 444.60,109.60"/><polyline points="444.60,104.85 442.35,109.60"/><polyline points="446.85,102.00 445.95,104.85"/><polyline points="446.40,103.90 449.55,103.90 449.10,105.80"/><polyline points="447.75,104.85 445.50,111.50"/><polyline points="447.75,106.75 450.00,111.50"/></g><text x="462" y="123" font-family="Liberation Sans" font-size="8.33" font-weight="normal" font-style="normal" fill="#141414" textLength="16.0" lengthAdjust="spacingAndGlyphs" stroke="#141414" stroke-width="0.45">1100μ</text><text x="462" y="134" font-family="Liberation Sans" font-size="8.33" font-weight="normal" font-style="italic" fill="#141414" textLength="16.0" lengthAdjust="spacingAndGlyphs" stroke="#141414" stroke-width="0.45">450V</text><text x="490" y="125" font-family="Liberation Sans" font-size="8.33" font-weight="normal" font-style="normal" fill="#141414" textLength="18.0" lengthAdjust="spacingAndGlyphs" stroke="#141414" stroke-width="0.45">200K</text><text x="492" y="137" font-family="Liberation Sans" font-size="8.33" font-weight="normal" font-style="normal" fill="#141414" textLength="11.0" lengthAdjust="spacingAndGlyphs" stroke="#141414" stroke-width="0.45">2W</text><text x="506" y="101" font-family="Liberation Sans" font-size="10.42" font-weight="normal" font-style="normal" fill="#141414" textLength="8.0" lengthAdjust="spacingAndGlyphs" stroke="#141414" stroke-width="0.45">B1</text><text x="524" y="99.8" font-family="Liberation Serif" font-size="9.09" font-weight="bold" font-style="normal" fill="#141414" textLength="60.0" lengthAdjust="spacingAndGlyphs" stroke="#141414" stroke-width="0.3">398V ( 403V )</text><path d="M309.2224137931034,185 A4.2,4.0 0 0 0 309.2224137931034,193.0 A4.2,4.0 0 0 0 309.2224137931034,201.0 A4.2,4.0 0 0 0 309.2224137931034,209.0 A4.2,4.0 0 0 0 309.2224137931034,217.0 A4.2,4.0 0 0 0 309.2224137931034,225.0 A4.2,4.0 0 0 0 309.2224137931034,233.0 " fill="none" stroke="#141414" stroke-width="1.45" stroke-linejoin="round"/><path d="M309.2224137931034,185 Q309.2224137931034,182 312.2224137931034,182" fill="none" stroke="#141414" stroke-width="1.45" stroke-linejoin="round"/><line x1="312.2224137931034" y1="182" x2="362.1" y2="182" stroke="#141414" stroke-width="1.45"/><line x1="339" y1="208" x2="364.5" y2="182" stroke="#141414" stroke-width="1.45"/><path d="M351.80,200.66 L346.09,195.05 L354.55,192.14 Z" fill="none" stroke="#141414" stroke-width="1.1" stroke-linejoin="round"/><line x1="357.41" y1="194.95" x2="351.7" y2="189.34" stroke="#141414" stroke-width="1.3"/><line x1="339" y1="208" x2="365.5" y2="233" stroke="#141414" stroke-width="1.45"/><path d="M346.60,220.66 L352.09,214.85 L355.16,223.24 Z" fill="none" stroke="#141414" stroke-width="1.1" stroke-linejoin="round"/><line x1="352.41" y1="226.15" x2="357.9" y2="220.34" stroke="#141414" stroke-width="1.3"/><line x1="364.5" y1="182" x2="390" y2="207" stroke="#141414" stroke-width="1.45"/><path d="M371.59,194.56 L377.19,188.84 L380.11,197.30 Z" fill="none" stroke="#141414" stroke-width="1.1" stroke-linejoin="round"/><line x1="377.31" y1="200.16" x2="382.91" y2="194.44" stroke="#141414" stroke-width="1.3"/><line x1="365.5" y1="233" x2="390" y2="207" stroke="#141414" stroke-width="1.45"/><path d="M377.92,225.65 L372.10,220.17 L380.49,217.09 Z" fill="none" stroke="#141414" stroke-width="1.1" stroke-linejoin="round"/><line x1="383.4" y1="219.83" x2="377.58" y2="214.35" stroke="#141414" stroke-width="1.3"/><line x1="309.2224137931034" y1="234" x2="363" y2="233.5" stroke="#141414" stroke-width="1.45"/><polyline points="339,210.4 339,238.8 569,235.2" fill="none" stroke="#141414" stroke-width="1.45" stroke-linejoin="round"/><polyline points="390,179.5 390,238.0" fill="none" stroke="#141414" stroke-width="1.45" stroke-linejoin="round"/><rect x="386.0" y="220.75" width="8" height="3.5" fill="#fff"/><line x1="386.0" y1="220.75" x2="394.0" y2="220.75" stroke="#141414" stroke-width="1.4"/><line x1="386.0" y1="224.25" x2="394.0" y2="224.25" stroke="#141414" stroke-width="1.4"/><line x1="390" y1="179.5" x2="415" y2="179.5" stroke="#141414" stroke-width="1.45"/><path d="M415,179.5 A3.25,4.5 0 0 1 421.5,179.5 A3.25,4.5 0 0 1 428.0,179.5 A3.25,4.5 0 0 1 434.5,179.5 A3.25,4.5 0 0 1 441.0,179.5 " fill="none" stroke="#141414" stroke-width="1.45" stroke-linejoin="round"/><line x1="416" y1="172.8" x2="440" y2="172.8" stroke="#141414" stroke-width="1.3"/><circle cx="415" cy="179.5" r="1.7" fill="#141414"/><circle cx="441" cy="179.5" r="1.7" fill="#141414"/><line x1="441" y1="179" x2="588" y2="179" stroke="#141414" stroke-width="1.45"/><path d="M594,179 L587,176.2 L587,181.8 Z" fill="#141414"/><polyline points="478,179 478,165 588,165" fill="none" stroke="#141414" stroke-width="1.45" stroke-linejoin="round"/><path d="M594,165 L587,162.2 L587,167.8 Z" fill="#141414"/><line x1="456" y1="179" x2="456" y2="236.97" stroke="#141414" stroke-width="1.45"/><rect x="451.5" y="191.0" width="9" height="3" fill="#fff"/><line x1="451.5" y1="191.0" x2="460.5" y2="191.0" stroke="#141414" stroke-width="1.4"/><rect x="451.5" y="193.4" width="9" height="2" fill="#fff" stroke="#141414" stroke-width="1.1"/><rect x="451.5" y="218.5" width="9" height="3" fill="#fff"/><line x1="451.5" y1="218.5" x2="460.5" y2="218.5" stroke="#141414" stroke-width="1.4"/><rect x="451.5" y="220.9" width="9" height="2" fill="#fff" stroke="#141414" stroke-width="1.1"/><line x1="456" y1="206" x2="478" y2="206" stroke="#141414" stroke-width="1.45"/><line x1="478" y1="179" x2="478" y2="236.62" stroke="#141414" stroke-width="1.45"/><rect x="475.5" y="187.5" width="5" height="10.0" fill="#fff" stroke="#141414" stroke-width="1.1"/><rect x="475.5" y="217.5" width="5" height="9.5" fill="#fff" stroke="#141414" stroke-width="1.1"/><rect x="496" y="176.5" width="11.5" height="5" fill="#fff" stroke="#141414" stroke-width="1.1"/><rect x="514" y="176.5" width="12" height="5" fill="#fff" stroke="#141414" stroke-width="1.1"/><line x1="542.5" y1="179" x2="542.5" y2="187" stroke="#141414" stroke-width="1.45"/><circle cx="542.5" cy="194.5" r="7.3" fill="#fff" stroke="#141414" stroke-width="1.2"/><circle cx="542.5" cy="197.5" r="1.1" fill="#141414"/><line x1="540" y1="191.5" x2="545" y2="191.5" stroke="#141414" stroke-width="1.1"/><line x1="542.5" y1="189" x2="542.5" y2="191.5" stroke="#141414" stroke-width="1.1"/><line x1="542.5" y1="201.8" x2="542.5" y2="235.61" stroke="#141414" stroke-width="1.45"/><path d="M538.5,222 L546.5,222 L542.5,215 Z" fill="#fff" stroke="#141414" stroke-width="1.1"/><polyline points="537.5,213.5 538.5,215 546.5,215 547.5,216.5" fill="none" stroke="#141414" stroke-width="1.2" stroke-linejoin="round"/><line x1="569" y1="179" x2="569" y2="235.2" stroke="#141414" stroke-width="1.45"/><rect x="564.5" y="203.5" width="9" height="3" fill="#fff"/><line x1="564.5" y1="203.5" x2="573.5" y2="203.5" stroke="#141414" stroke-width="1.4"/><line x1="564.5" y1="206.5" x2="573.5" y2="206.5" stroke="#141414" stroke-width="1.4"/><line x1="569" y1="235.2" x2="569" y2="238.2" stroke="#141414" stroke-width="1.45"/><line x1="563.5" y1="238.7" x2="574.5" y2="238.7" stroke="#141414" stroke-width="1.6"/><circle cx="456" cy="179" r="1.6" fill="#141414"/><circle cx="478" cy="179" r="1.6" fill="#141414"/><circle cx="542.5" cy="179" r="1.6" fill="#141414"/><circle cx="569" cy="179" r="1.6" fill="#141414"/><circle cx="456" cy="206" r="1.6" fill="#141414"/><circle cx="478" cy="206" r="1.6" fill="#141414"/><circle cx="456" cy="236.97" r="1.6" fill="#141414"/><circle cx="478" cy="236.62" r="1.6" fill="#141414"/><circle cx="542.5" cy="235.61" r="1.6" fill="#141414"/><circle cx="390" cy="238.0" r="1.6" fill="#141414"/><circle cx="390" cy="179.5" r="1.6" fill="#141414"/><line x1="309.2224137931034" y1="216.5" x2="312" y2="216.5" stroke="#141414" stroke-width="1.2"/><text x="335" y="175" font-family="Liberation Sans" font-size="9.72" font-weight="normal" font-style="normal" fill="#141414" textLength="42.0" lengthAdjust="spacingAndGlyphs" stroke="#141414" stroke-width="0.45">KBPC3510</text><text x="312" y="211" font-family="Liberation Sans" font-size="8.33" font-weight="normal" font-style="normal" fill="#141414" textLength="21.0" lengthAdjust="spacingAndGlyphs" stroke="#141414" stroke-width="0.45">340V -</text><text x="313" y="220" font-family="Liberation Sans" font-size="8.33" font-weight="normal" font-style="normal" fill="#141414" textLength="13.0" lengthAdjust="spacingAndGlyphs" stroke="#141414" stroke-width="0.45">0.3A</text><text x="392" y="207" font-family="Liberation Sans" font-size="8.33" font-weight="bold" font-style="normal" fill="#141414" textLength="5.0" lengthAdjust="spacingAndGlyphs" stroke="#141414" stroke-width="0.45">+</text><text x="397" y="209.6" font-family="Liberation Serif" font-size="7.42" font-weight="bold" font-style="normal" fill="#141414" textLength="18.0" lengthAdjust="spacingAndGlyphs" stroke="#141414" stroke-width="0.3">S+M</text><text x="397" y="222.5" font-family="Liberation Serif" font-size="8.33" font-weight="bold" font-style="normal" fill="#141414" textLength="23.0" lengthAdjust="spacingAndGlyphs" stroke="#141414" stroke-width="0.3">330uf</text><text x="397" y="233.5" font-family="Liberation Serif" font-size="7.58" font-weight="bold" font-style="normal" fill="#141414" textLength="18.0" lengthAdjust="spacingAndGlyphs" stroke="#141414" stroke-width="0.3">800V</text><text x="413" y="195" font-family="Liberation Serif" font-size="10.61" font-weight="bold" font-style="normal" fill="#141414" textLength="22.0" lengthAdjust="spacingAndGlyphs" stroke="#141414" stroke-width="0.3">5H 62</text><g fill="none" stroke="#222" stroke-width="1.2" stroke-linecap="round" stroke-linejoin="round"><polyline points="437.45,187.45 441.05,187.45"/><polyline points="437.45,187.45 437.45,195.53 441.05,195.53"/><polyline points="438.35,189.35 440.60,194.10"/><polyline points="440.60,189.35 438.35,194.10"/><polyline points="442.85,186.50 441.95,189.35"/><polyline points="442.40,188.40 445.55,188.40 445.10,190.30"/><polyline points="443.75,189.35 441.50,196.00"/><polyline points="443.75,191.25 446.00,196.00"/></g><text x="460" y="191" font-family="Liberation Sans" font-size="6.94" font-weight="normal" font-style="normal" fill="#141414" textLength="16.0" lengthAdjust="spacingAndGlyphs" stroke="#141414" stroke-width="0.45">2200μ</text><text x="460" y="202" font-family="Liberation Sans" font-size="8.33" font-weight="normal" font-style="italic" fill="#141414" textLength="15.0" lengthAdjust="spacingAndGlyphs" stroke="#141414" stroke-width="0.45">250V</text><text x="460" y="218" font-family="Liberation Sans" font-size="6.94" font-weight="normal" font-style="normal" fill="#141414" textLength="16.0" lengthAdjust="spacingAndGlyphs" stroke="#141414" stroke-width="0.45">2200μ</text><text x="460" y="228" font-family="Liberation Sans" font-size="8.33" font-weight="normal" font-style="italic" fill="#141414" textLength="15.0" lengthAdjust="spacingAndGlyphs" stroke="#141414" stroke-width="0.45">250V</text><text x="483" y="199" font-family="Liberation Sans" font-size="8.33" font-weight="normal" font-style="normal" fill="#141414" textLength="14.0" lengthAdjust="spacingAndGlyphs" stroke="#141414" stroke-width="0.45">110K</text><text x="486" y="209" font-family="Liberation Sans" font-size="8.33" font-weight="normal" font-style="normal" fill="#141414" textLength="9.0" lengthAdjust="spacingAndGlyphs" stroke="#141414" stroke-width="0.45">2W</text><text x="483" y="224" font-family="Liberation Sans" font-size="8.33" font-weight="normal" font-style="normal" fill="#141414" textLength="14.0" lengthAdjust="spacingAndGlyphs" stroke="#141414" stroke-width="0.45">110K</text><text x="486" y="235" font-family="Liberation Sans" font-size="8.33" font-weight="normal" font-style="normal" fill="#141414" textLength="9.0" lengthAdjust="spacingAndGlyphs" stroke="#141414" stroke-width="0.45">2W</text><text x="506" y="174" font-family="Liberation Sans" font-size="6.94" font-weight="normal" font-style="italic" fill="#141414" textLength="11.0" lengthAdjust="spacingAndGlyphs" stroke="#141414" stroke-width="0.45">10W</text><text x="496" y="189" font-family="Liberation Sans" font-size="8.33" font-weight="normal" font-style="normal" fill="#141414" textLength="10.0" lengthAdjust="spacingAndGlyphs" stroke="#141414" stroke-width="0.45">16K</text><text x="515" y="189" font-family="Liberation Sans" font-size="8.33" font-weight="normal" font-style="normal" fill="#141414" textLength="15.0" lengthAdjust="spacingAndGlyphs" stroke="#141414" stroke-width="0.45">3.9K</text><text x="553" y="196" font-family="Liberation Sans" font-size="8.33" font-weight="normal" font-style="normal" fill="#141414" textLength="12.0" lengthAdjust="spacingAndGlyphs" stroke="#141414" stroke-width="0.45">6Y-1</text><text x="545" y="208" font-family="Liberation Sans" font-size="8.33" font-weight="normal" font-style="normal" fill="#141414" textLength="16.0" lengthAdjust="spacingAndGlyphs" stroke="#141414" stroke-width="0.45">(0A1)</text><text x="548" y="224" font-family="Liberation Sans" font-size="8.33" font-weight="normal" font-style="normal" fill="#141414" textLength="18.0" lengthAdjust="spacingAndGlyphs" stroke="#141414" stroke-width="0.45">1W60</text><text x="575" y="208" font-family="Liberation Sans" font-size="8.33" font-weight="normal" font-style="normal" fill="#141414" textLength="23.0" lengthAdjust="spacingAndGlyphs" stroke="#141414" stroke-width="0.45">0.22μ</text><text x="595" y="169" font-family="Liberation Sans" font-size="11.11" font-weight="normal" font-style="normal" fill="#141414" textLength="12.0" lengthAdjust="spacingAndGlyphs" stroke="#141414" stroke-width="0.45">A<tspan font-size="8">2</tspan></text><text x="609" y="167" font-family="Liberation Serif" font-size="9.09" font-weight="bold" font-style="normal" fill="#141414" textLength="60.0" lengthAdjust="spacingAndGlyphs" stroke="#141414" stroke-width="0.3">432V ( 440V )</text><text x="595" y="182" font-family="Liberation Sans" font-size="11.11" font-weight="normal" font-style="normal" fill="#141414" textLength="12.0" lengthAdjust="spacingAndGlyphs" stroke="#141414" stroke-width="0.45">A<tspan font-size="8">3</tspan></text><text x="610" y="182" font-family="Liberation Sans" font-size="11.11" font-weight="normal" font-style="italic" fill="#141414" textLength="20.0" lengthAdjust="spacingAndGlyphs" stroke="#141414" stroke-width="0.45">205V</text><path d="M311.29518072289153,261 A4.2,4.083333333333333 0 0 0 311.29518072289153,269.1666666666667 A4.2,4.083333333333333 0 0 0 311.29518072289153,277.3333333333333 A4.2,4.083333333333333 0 0 0 311.29518072289153,285.5 A4.2,4.083333333333333 0 0 0 311.29518072289153,293.6666666666667 A4.2,4.083333333333333 0 0 0 311.29518072289153,301.8333333333333 A4.2,4.083333333333333 0 0 0 311.29518072289153,310.0 " fill="none" stroke="#141414" stroke-width="1.45" stroke-linejoin="round"/><path d="M311.29518072289153,261 Q311.29518072289153,258 314.29518072289153,258" fill="none" stroke="#141414" stroke-width="1.45" stroke-linejoin="round"/><line x1="314.29518072289153" y1="258" x2="363.6" y2="258" stroke="#141414" stroke-width="1.45"/><line x1="341" y1="284" x2="366" y2="258" stroke="#141414" stroke-width="1.45"/><path d="M353.61,276.66 L347.84,271.11 L356.27,268.12 Z" fill="none" stroke="#141414" stroke-width="1.1" stroke-linejoin="round"/><line x1="359.16" y1="270.89" x2="353.39" y2="265.34" stroke="#141414" stroke-width="1.3"/><line x1="341" y1="284" x2="367" y2="310" stroke="#141414" stroke-width="1.45"/><path d="M348.34,297.00 L354.00,291.34 L356.83,299.83 Z" fill="none" stroke="#141414" stroke-width="1.1" stroke-linejoin="round"/><line x1="354.0" y1="302.66" x2="359.66" y2="297.0" stroke="#141414" stroke-width="1.3"/><line x1="366" y1="258" x2="392" y2="283" stroke="#141414" stroke-width="1.45"/><path d="M373.34,270.61 L378.89,264.84 L381.88,273.27 Z" fill="none" stroke="#141414" stroke-width="1.1" stroke-linejoin="round"/><line x1="379.11" y1="276.16" x2="384.66" y2="270.39" stroke="#141414" stroke-width="1.3"/><line x1="367" y1="310" x2="392" y2="283" stroke="#141414" stroke-width="1.45"/><path d="M379.72,302.15 L373.85,296.72 L382.22,293.56 Z" fill="none" stroke="#141414" stroke-width="1.1" stroke-linejoin="round"/><line x1="385.15" y1="296.28" x2="379.28" y2="290.85" stroke="#141414" stroke-width="1.3"/><line x1="311.29518072289153" y1="310.5" x2="364.6" y2="310.3" stroke="#141414" stroke-width="1.45"/><polyline points="341,286.4 341,316.5 568,313.2" fill="none" stroke="#141414" stroke-width="1.45" stroke-linejoin="round"/><polyline points="392,255.5 392,315.76" fill="none" stroke="#141414" stroke-width="1.45" stroke-linejoin="round"/><rect x="388.0" y="297.75" width="8" height="3.5" fill="#fff"/><line x1="388.0" y1="297.75" x2="396.0" y2="297.75" stroke="#141414" stroke-width="1.4"/><line x1="388.0" y1="301.25" x2="396.0" y2="301.25" stroke="#141414" stroke-width="1.4"/><line x1="392" y1="255.5" x2="415" y2="255.5" stroke="#141414" stroke-width="1.45"/><path d="M415,255.5 A3.375,4.5 0 0 1 421.75,255.5 A3.375,4.5 0 0 1 428.5,255.5 A3.375,4.5 0 0 1 435.25,255.5 A3.375,4.5 0 0 1 442.0,255.5 " fill="none" stroke="#141414" stroke-width="1.45" stroke-linejoin="round"/><line x1="416" y1="248.8" x2="441" y2="248.8" stroke="#141414" stroke-width="1.3"/><circle cx="415" cy="255.5" r="1.7" fill="#141414"/><circle cx="442" cy="255.5" r="1.7" fill="#141414"/><line x1="442" y1="255" x2="588" y2="255" stroke="#141414" stroke-width="1.45"/><path d="M594,255 L587,252.2 L587,257.8 Z" fill="#141414"/><polyline points="478,255 478,242.6 588,242.6" fill="none" stroke="#141414" stroke-width="1.45" stroke-linejoin="round"/><path d="M594,242.6 L587,239.79999999999998 L587,245.4 Z" fill="#141414"/><line x1="455.5" y1="255" x2="455.5" y2="314.84" stroke="#141414" stroke-width="1.45"/><rect x="451.0" y="266.5" width="9" height="3" fill="#fff"/><line x1="451.0" y1="266.5" x2="460.0" y2="266.5" stroke="#141414" stroke-width="1.4"/><rect x="451.0" y="268.9" width="9" height="2" fill="#fff" stroke="#141414" stroke-width="1.1"/><rect x="451.0" y="295.5" width="9" height="3" fill="#fff"/><line x1="451.0" y1="295.5" x2="460.0" y2="295.5" stroke="#141414" stroke-width="1.4"/><rect x="451.0" y="297.9" width="9" height="2" fill="#fff" stroke="#141414" stroke-width="1.1"/><line x1="455.5" y1="282" x2="478" y2="282" stroke="#141414" stroke-width="1.45"/><line x1="478" y1="255" x2="478" y2="314.51" stroke="#141414" stroke-width="1.45"/><rect x="475.5" y="263" width="5" height="10" fill="#fff" stroke="#141414" stroke-width="1.1"/><rect x="475.5" y="293" width="5" height="10" fill="#fff" stroke="#141414" stroke-width="1.1"/><rect x="495" y="252.5" width="12" height="5" fill="#fff" stroke="#141414" stroke-width="1.1"/><rect x="514" y="252.5" width="11.600000000000023" height="5" fill="#fff" stroke="#141414" stroke-width="1.1"/><line x1="544" y1="255" x2="544" y2="265.5" stroke="#141414" stroke-width="1.45"/><circle cx="544" cy="273" r="7.3" fill="#fff" stroke="#141414" stroke-width="1.2"/><circle cx="544" cy="276" r="1.1" fill="#141414"/><line x1="541.5" y1="270" x2="546.5" y2="270" stroke="#141414" stroke-width="1.1"/><line x1="544" y1="267.5" x2="544" y2="270" stroke="#141414" stroke-width="1.1"/><line x1="544" y1="280.3" x2="544" y2="313.55" stroke="#141414" stroke-width="1.45"/><path d="M540,299.5 L548,299.5 L544,292.5 Z" fill="#fff" stroke="#141414" stroke-width="1.1"/><polyline points="539,291 540,292.5 548,292.5 549,294" fill="none" stroke="#141414" stroke-width="1.2" stroke-linejoin="round"/><line x1="568" y1="255" x2="568" y2="313.2" stroke="#141414" stroke-width="1.45"/><rect x="563.5" y="279.5" width="9" height="3" fill="#fff"/><line x1="563.5" y1="279.5" x2="572.5" y2="279.5" stroke="#141414" stroke-width="1.4"/><line x1="563.5" y1="282.5" x2="572.5" y2="282.5" stroke="#141414" stroke-width="1.4"/><line x1="568" y1="313.2" x2="568" y2="316.2" stroke="#141414" stroke-width="1.45"/><line x1="562.5" y1="316.4" x2="573.5" y2="316.4" stroke="#141414" stroke-width="1.6"/><circle cx="455.5" cy="255" r="1.6" fill="#141414"/><circle cx="478" cy="255" r="1.6" fill="#141414"/><circle cx="544" cy="255" r="1.6" fill="#141414"/><circle cx="568" cy="255" r="1.6" fill="#141414"/><circle cx="455.5" cy="282" r="1.6" fill="#141414"/><circle cx="478" cy="282" r="1.6" fill="#141414"/><circle cx="455.5" cy="314.84" r="1.6" fill="#141414"/><circle cx="478" cy="314.51" r="1.6" fill="#141414"/><circle cx="544" cy="313.55" r="1.6" fill="#141414"/><circle cx="392" cy="315.76" r="1.6" fill="#141414"/><circle cx="392" cy="255.5" r="1.6" fill="#141414"/><line x1="311.29518072289153" y1="292.5" x2="313.5" y2="292.5" stroke="#141414" stroke-width="1.2"/><text x="337" y="254" font-family="Liberation Sans" font-size="9.72" font-weight="normal" font-style="normal" fill="#141414" textLength="38.0" lengthAdjust="spacingAndGlyphs" stroke="#141414" stroke-width="0.45">KBPC3510</text><text x="314" y="287" font-family="Liberation Sans" font-size="8.33" font-weight="normal" font-style="normal" fill="#141414" textLength="21.0" lengthAdjust="spacingAndGlyphs" stroke="#141414" stroke-width="0.45">340V -</text><text x="315" y="297" font-family="Liberation Sans" font-size="8.33" font-weight="normal" font-style="normal" fill="#141414" textLength="14.0" lengthAdjust="spacingAndGlyphs" stroke="#141414" stroke-width="0.45">0.3A</text><text x="395" y="284.5" font-family="Liberation Sans" font-size="8.33" font-weight="bold" font-style="normal" fill="#141414" textLength="5.5" lengthAdjust="spacingAndGlyphs" stroke="#141414" stroke-width="0.45">+</text><text x="399" y="290.5" font-family="Liberation Serif" font-size="7.58" font-weight="bold" font-style="normal" fill="#141414" textLength="18.0" lengthAdjust="spacingAndGlyphs" stroke="#141414" stroke-width="0.3">S+M</text><text x="399" y="302" font-family="Liberation Serif" font-size="8.33" font-weight="bold" font-style="normal" fill="#141414" textLength="22.0" lengthAdjust="spacingAndGlyphs" stroke="#141414" stroke-width="0.3">330uf</text><text x="399" y="312.5" font-family="Liberation Serif" font-size="7.58" font-weight="bold" font-style="normal" fill="#141414" textLength="18.0" lengthAdjust="spacingAndGlyphs" stroke="#141414" stroke-width="0.3">800V</text><text x="413" y="270" font-family="Liberation Serif" font-size="10.61" font-weight="bold" font-style="normal" fill="#141414" textLength="22.0" lengthAdjust="spacingAndGlyphs" stroke="#141414" stroke-width="0.3">5H 62</text><g fill="none" stroke="#222" stroke-width="1.2" stroke-linecap="round" stroke-linejoin="round"><polyline points="437.45,262.45 441.05,262.45"/><polyline points="437.45,262.45 437.45,270.52 441.05,270.52"/><polyline points="438.35,264.35 440.60,269.10"/><polyline points="440.60,264.35 438.35,269.10"/><polyline points="442.85,261.50 441.95,264.35"/><polyline points="442.40,263.40 445.55,263.40 445.10,265.30"/><polyline points="443.75,264.35 441.50,271.00"/><polyline points="443.75,266.25 446.00,271.00"/></g><text x="460" y="267" font-family="Liberation Sans" font-size="6.94" font-weight="normal" font-style="normal" fill="#141414" textLength="16.0" lengthAdjust="spacingAndGlyphs" stroke="#141414" stroke-width="0.45">2200μ</text><text x="460" y="278" font-family="Liberation Sans" font-size="8.33" font-weight="normal" font-style="italic" fill="#141414" textLength="15.0" lengthAdjust="spacingAndGlyphs" stroke="#141414" stroke-width="0.45">250V</text><text x="460" y="294" font-family="Liberation Sans" font-size="6.94" font-weight="normal" font-style="normal" fill="#141414" textLength="16.0" lengthAdjust="spacingAndGlyphs" stroke="#141414" stroke-width="0.45">2200μ</text><text x="460" y="304" font-family="Liberation Sans" font-size="8.33" font-weight="normal" font-style="italic" fill="#141414" textLength="15.0" lengthAdjust="spacingAndGlyphs" stroke="#141414" stroke-width="0.45">250V</text><text x="483" y="275" font-family="Liberation Sans" font-size="8.33" font-weight="normal" font-style="normal" fill="#141414" textLength="14.0" lengthAdjust="spacingAndGlyphs" stroke="#141414" stroke-width="0.45">110K</text><text x="486" y="285" font-family="Liberation Sans" font-size="8.33" font-weight="normal" font-style="normal" fill="#141414" textLength="9.0" lengthAdjust="spacingAndGlyphs" stroke="#141414" stroke-width="0.45">2W</text><text x="483" y="300" font-family="Liberation Sans" font-size="8.33" font-weight="normal" font-style="normal" fill="#141414" textLength="14.0" lengthAdjust="spacingAndGlyphs" stroke="#141414" stroke-width="0.45">110K</text><text x="486" y="311" font-family="Liberation Sans" font-size="8.33" font-weight="normal" font-style="normal" fill="#141414" textLength="9.0" lengthAdjust="spacingAndGlyphs" stroke="#141414" stroke-width="0.45">2W</text><text x="505" y="250" font-family="Liberation Sans" font-size="6.94" font-weight="normal" font-style="italic" fill="#141414" textLength="12.0" lengthAdjust="spacingAndGlyphs" stroke="#141414" stroke-width="0.45">10W</text><text x="495" y="265" font-family="Liberation Sans" font-size="8.33" font-weight="normal" font-style="normal" fill="#141414" textLength="11.0" lengthAdjust="spacingAndGlyphs" stroke="#141414" stroke-width="0.45">13K</text><text x="514" y="265" font-family="Liberation Sans" font-size="8.33" font-weight="normal" font-style="normal" fill="#141414" textLength="14.0" lengthAdjust="spacingAndGlyphs" stroke="#141414" stroke-width="0.45">6.8K</text><text x="553" y="276" font-family="Liberation Sans" font-size="8.33" font-weight="normal" font-style="normal" fill="#141414" textLength="13.0" lengthAdjust="spacingAndGlyphs" stroke="#141414" stroke-width="0.45">WY-1</text><text x="546" y="288" font-family="Liberation Sans" font-size="8.33" font-weight="normal" font-style="normal" fill="#141414" textLength="16.0" lengthAdjust="spacingAndGlyphs" stroke="#141414" stroke-width="0.45">(0A1)</text><text x="548" y="301" font-family="Liberation Sans" font-size="8.33" font-weight="normal" font-style="normal" fill="#141414" textLength="18.0" lengthAdjust="spacingAndGlyphs" stroke="#141414" stroke-width="0.45">1W60</text><text x="575" y="284" font-family="Liberation Sans" font-size="8.33" font-weight="normal" font-style="normal" fill="#141414" textLength="23.0" lengthAdjust="spacingAndGlyphs" stroke="#141414" stroke-width="0.45">0.22μ</text><text x="596" y="246" font-family="Liberation Sans" font-size="11.11" font-weight="normal" font-style="normal" fill="#141414" textLength="11.0" lengthAdjust="spacingAndGlyphs" stroke="#141414" stroke-width="0.45">B<tspan font-size="8">2</tspan></text><text x="609" y="243.8" font-family="Liberation Serif" font-size="9.09" font-weight="bold" font-style="normal" fill="#141414" textLength="60.0" lengthAdjust="spacingAndGlyphs" stroke="#141414" stroke-width="0.3">434V ( 442V )</text><text x="596" y="259" font-family="Liberation Sans" font-size="11.11" font-weight="normal" font-style="normal" fill="#141414" textLength="11.0" lengthAdjust="spacingAndGlyphs" stroke="#141414" stroke-width="0.45">B<tspan font-size="8">3</tspan></text><text x="610" y="259" font-family="Liberation Sans" font-size="11.11" font-weight="normal" font-style="italic" fill="#141414" textLength="20.0" lengthAdjust="spacingAndGlyphs" stroke="#141414" stroke-width="0.45">206V</text><path d="M313.4222222222222,337 A4.2,4.083333333333333 0 0 0 313.4222222222222,345.1666666666667 A4.2,4.083333333333333 0 0 0 313.4222222222222,353.3333333333333 A4.2,4.083333333333333 0 0 0 313.4222222222222,361.5 A4.2,4.083333333333333 0 0 0 313.4222222222222,369.6666666666667 A4.2,4.083333333333333 0 0 0 313.4222222222222,377.8333333333333 A4.2,4.083333333333333 0 0 0 313.4222222222222,386.0 " fill="none" stroke="#141414" stroke-width="1.45" stroke-linejoin="round"/><path d="M313.4222222222222,337 Q313.4222222222222,334 316.4222222222222,334" fill="none" stroke="#141414" stroke-width="1.45" stroke-linejoin="round"/><line x1="316.4222222222222" y1="334" x2="365.1" y2="334" stroke="#141414" stroke-width="1.45"/><line x1="342.5" y1="360.5" x2="367.5" y2="334" stroke="#141414" stroke-width="1.45"/><path d="M354.84,341.60 L360.65,347.09 L352.26,350.16 Z" fill="none" stroke="#141414" stroke-width="1.1" stroke-linejoin="round"/><line x1="349.35" y1="347.41" x2="355.16" y2="352.9" stroke="#141414" stroke-width="1.3"/><line x1="342.5" y1="360.5" x2="369.5" y2="386" stroke="#141414" stroke-width="1.45"/><path d="M361.65,373.09 L356.16,378.90 L353.09,370.50 Z" fill="none" stroke="#141414" stroke-width="1.1" stroke-linejoin="round"/><line x1="355.84" y1="367.6" x2="350.35" y2="373.41" stroke="#141414" stroke-width="1.3"/><line x1="367.5" y1="334" x2="394" y2="359" stroke="#141414" stroke-width="1.45"/><path d="M386.40,346.34 L380.91,352.15 L377.84,343.76 Z" fill="none" stroke="#141414" stroke-width="1.1" stroke-linejoin="round"/><line x1="380.59" y1="340.85" x2="375.1" y2="346.66" stroke="#141414" stroke-width="1.3"/><line x1="369.5" y1="386" x2="394" y2="359" stroke="#141414" stroke-width="1.45"/><path d="M381.48,366.85 L387.40,372.23 L379.06,375.46 Z" fill="none" stroke="#141414" stroke-width="1.1" stroke-linejoin="round"/><line x1="376.1" y1="372.77" x2="382.02" y2="378.15" stroke="#141414" stroke-width="1.3"/><line x1="313.4222222222222" y1="386.5" x2="367.1" y2="386.3" stroke="#141414" stroke-width="1.45"/><polyline points="342.5,362.9 342.5,394 525,394" fill="none" stroke="#141414" stroke-width="1.45" stroke-linejoin="round"/><polyline points="394,356.6 394,345 549,345" fill="none" stroke="#141414" stroke-width="1.45" stroke-linejoin="round"/><polyline points="430,320.5 430,394" fill="none" stroke="#141414" stroke-width="1.45" stroke-linejoin="round"/><rect x="425.5" y="368.0" width="9" height="3" fill="#fff"/><line x1="425.5" y1="368.0" x2="434.5" y2="368.0" stroke="#141414" stroke-width="1.4"/><rect x="425.5" y="370.4" width="9" height="2" fill="#fff" stroke="#141414" stroke-width="1.1"/><line x1="430" y1="320.5" x2="586.6" y2="320.5" stroke="#141414" stroke-width="1.45"/><rect x="445" y="342.5" width="11" height="5" fill="#fff" stroke="#141414" stroke-width="1.1"/><polyline points="505,345 505,335.5 586.6,335.5" fill="none" stroke="#141414" stroke-width="1.45" stroke-linejoin="round"/><line x1="406.5" y1="345" x2="406.5" y2="394" stroke="#141414" stroke-width="1.45"/><polyline points="406.5,350.4 416,350.4 416,368 406.5,368" fill="none" stroke="#141414" stroke-width="1.2" stroke-linejoin="round"/><rect x="404.0" y="355" width="5" height="11" fill="#fff" stroke="#141414" stroke-width="1.1"/><rect x="411.5" y="359.4" width="9" height="2.6" fill="#fff"/><line x1="411.5" y1="359.4" x2="420.5" y2="359.4" stroke="#141414" stroke-width="1.3"/><line x1="411.5" y1="362" x2="420.5" y2="362" stroke="#141414" stroke-width="1.3"/><path d="M402,380.2 L411,380.2 L406.5,372.8 Z" fill="#141414"/><line x1="402" y1="372.5" x2="411" y2="372.5" stroke="#141414" stroke-width="1.4"/><line x1="393.7" y1="382.6" x2="398.5" y2="376.5" stroke="#141414" stroke-width="1.1"/><line x1="396.5" y1="384" x2="401" y2="378" stroke="#141414" stroke-width="1.1"/><line x1="466" y1="345" x2="466" y2="394" stroke="#141414" stroke-width="1.45"/><rect x="463.5" y="361" width="5" height="10" fill="#fff" stroke="#141414" stroke-width="1.1"/><rect x="463.5" y="378" width="5" height="9.5" fill="#fff" stroke="#141414" stroke-width="1.1"/><polyline points="470,366 505,366 505,345" fill="none" stroke="#141414" stroke-width="1.45" stroke-linejoin="round"/><path d="M469,366 L473,364 L473,368 Z" fill="#141414"/><line x1="490" y1="345" x2="490" y2="366" stroke="#141414" stroke-width="1.45"/><rect x="487.5" y="349" width="5" height="10" fill="#fff" stroke="#141414" stroke-width="1.1"/><line x1="525" y1="345" x2="525" y2="394" stroke="#141414" stroke-width="1.45"/><rect x="522.5" y="361" width="5" height="10" fill="#fff" stroke="#141414" stroke-width="1.1"/><rect x="522.5" y="378" width="5" height="9.5" fill="#fff" stroke="#141414" stroke-width="1.1"/><polyline points="529,366 586.6,366" fill="none" stroke="#141414" stroke-width="1.45" stroke-linejoin="round"/><path d="M528,366 L532,364 L532,368 Z" fill="#141414"/><line x1="549" y1="345" x2="549" y2="366" stroke="#141414" stroke-width="1.45"/><rect x="546.5" y="349" width="5" height="11" fill="#fff" stroke="#141414" stroke-width="1.1"/><line x1="525" y1="394" x2="525" y2="397" stroke="#141414" stroke-width="1.45"/><line x1="519.5" y1="397.5" x2="530.5" y2="397.5" stroke="#141414" stroke-width="1.6"/><circle cx="430" cy="345" r="1.6" fill="#141414"/><circle cx="406.5" cy="345" r="1.6" fill="#141414"/><circle cx="466" cy="345" r="1.6" fill="#141414"/><circle cx="490" cy="345" r="1.6" fill="#141414"/><circle cx="525" cy="345" r="1.6" fill="#141414"/><circle cx="549" cy="345" r="1.6" fill="#141414"/><circle cx="490" cy="366" r="1.6" fill="#141414"/><circle cx="549" cy="366" r="1.6" fill="#141414"/><circle cx="406.5" cy="394" r="1.6" fill="#141414"/><circle cx="430" cy="394" r="1.6" fill="#141414"/><circle cx="466" cy="394" r="1.6" fill="#141414"/><text x="340" y="329" font-family="Liberation Sans" font-size="9.72" font-weight="normal" font-style="normal" fill="#141414" textLength="32.0" lengthAdjust="spacingAndGlyphs" stroke="#141414" stroke-width="0.45">10J4B41</text><text x="320" y="363" font-family="Liberation Sans" font-size="9.72" font-weight="normal" font-style="normal" fill="#141414" textLength="17.0" lengthAdjust="spacingAndGlyphs" stroke="#141414" stroke-width="0.45">140V</text><text x="339" y="356" font-family="Liberation Sans" font-size="8.33" font-weight="bold" font-style="normal" fill="#141414" textLength="5.0" lengthAdjust="spacingAndGlyphs" stroke="#141414" stroke-width="0.45">+</text><line x1="397.3" y1="356.5" x2="400.5" y2="356.5" stroke="#141414" stroke-width="1.2"/><text x="436" y="369" font-family="Liberation Sans" font-size="8.33" font-weight="normal" font-style="italic" fill="#141414" textLength="19.0" lengthAdjust="spacingAndGlyphs" stroke="#141414" stroke-width="0.45">2200μ</text><text x="437" y="379" font-family="Liberation Sans" font-size="8.33" font-weight="normal" font-style="italic" fill="#141414" textLength="17.0" lengthAdjust="spacingAndGlyphs" stroke="#141414" stroke-width="0.45">200V</text><text x="435" y="341" font-family="Liberation Sans" font-size="9.72" font-weight="normal" font-style="italic" fill="#141414" textLength="55.0" lengthAdjust="spacingAndGlyphs" stroke="#141414" stroke-width="0.45">27K 2W-47.5V</text><text x="470" y="362" font-family="Liberation Sans" font-size="8.33" font-weight="normal" font-style="italic" fill="#141414" textLength="13.0" lengthAdjust="spacingAndGlyphs" stroke="#141414" stroke-width="0.45">10K</text><text x="469" y="376" font-family="Liberation Sans" font-size="8.33" font-weight="normal" font-style="normal" fill="#141414" textLength="15.0" lengthAdjust="spacingAndGlyphs" stroke="#141414" stroke-width="0.45">1.6W</text><text x="471" y="387" font-family="Liberation Sans" font-size="8.33" font-weight="normal" font-style="normal" fill="#141414" textLength="14.0" lengthAdjust="spacingAndGlyphs" stroke="#141414" stroke-width="0.45">10K</text><text x="495" y="357" font-family="Liberation Sans" font-size="8.33" font-weight="normal" font-style="normal" fill="#141414" textLength="10.0" lengthAdjust="spacingAndGlyphs" stroke="#141414" stroke-width="0.45">20K</text><text x="529" y="362" font-family="Liberation Sans" font-size="8.33" font-weight="normal" font-style="italic" fill="#141414" textLength="13.0" lengthAdjust="spacingAndGlyphs" stroke="#141414" stroke-width="0.45">10K</text><text x="529" y="376" font-family="Liberation Sans" font-size="8.33" font-weight="normal" font-style="normal" fill="#141414" textLength="15.0" lengthAdjust="spacingAndGlyphs" stroke="#141414" stroke-width="0.45">1.6W</text><text x="531" y="387" font-family="Liberation Sans" font-size="8.33" font-weight="normal" font-style="normal" fill="#141414" textLength="14.0" lengthAdjust="spacingAndGlyphs" stroke="#141414" stroke-width="0.45">10K</text><text x="555" y="358" font-family="Liberation Sans" font-size="9.72" font-weight="normal" font-style="normal" fill="#141414" textLength="11.0" lengthAdjust="spacingAndGlyphs" stroke="#141414" stroke-width="0.45">20K</text><text x="595" y="324" font-family="Liberation Sans" font-size="10.42" font-weight="normal" font-style="normal" fill="#141414" textLength="7.0" lengthAdjust="spacingAndGlyphs" stroke="#141414" stroke-width="0.45">D1</text><text x="607" y="322.5" font-family="Liberation Serif" font-size="9.09" font-weight="bold" font-style="normal" fill="#141414" textLength="58.0" lengthAdjust="spacingAndGlyphs" stroke="#141414" stroke-width="0.3">-185V(-186V)</text><text x="595" y="338.5" font-family="Liberation Sans" font-size="10.42" font-weight="normal" font-style="normal" fill="#141414" textLength="36.0" lengthAdjust="spacingAndGlyphs" stroke="#141414" stroke-width="0.45">C1 -34V</text><text x="595" y="369" font-family="Liberation Sans" font-size="10.42" font-weight="normal" font-style="normal" fill="#141414" textLength="36.0" lengthAdjust="spacingAndGlyphs" stroke="#141414" stroke-width="0.45">C2 -34V</text><path d="M315.9892857142857,413 A4.2,3.9285714285714284 0 0 0 315.9892857142857,420.85714285714283 A4.2,3.9285714285714284 0 0 0 315.9892857142857,428.7142857142857 A4.2,3.9285714285714284 0 0 0 315.9892857142857,436.57142857142856 A4.2,3.9285714285714284 0 0 0 315.9892857142857,444.42857142857144 A4.2,3.9285714285714284 0 0 0 315.9892857142857,452.2857142857143 A4.2,3.9285714285714284 0 0 0 315.9892857142857,460.1428571428571 A4.2,3.9285714285714284 0 0 0 315.9892857142857,468.0 " fill="none" stroke="#141414" stroke-width="1.45" stroke-linejoin="round"/><path d="M315.9892857142857,413 Q315.9892857142857,410 318.9892857142857,410" fill="none" stroke="#141414" stroke-width="1.45" stroke-linejoin="round"/><line x1="318.9892857142857" y1="410" x2="367" y2="410.3" stroke="#141414" stroke-width="1.45"/><line x1="345" y1="437" x2="369.4" y2="410.6" stroke="#141414" stroke-width="1.45"/><path d="M356.98,418.15 L362.85,423.58 L354.49,426.74 Z" fill="none" stroke="#141414" stroke-width="1.1" stroke-linejoin="round"/><line x1="351.55" y1="424.02" x2="357.42" y2="429.45" stroke="#141414" stroke-width="1.3"/><line x1="345" y1="437" x2="370.4" y2="461" stroke="#141414" stroke-width="1.45"/><path d="M363.35,448.84 L357.86,454.65 L354.79,446.25 Z" fill="none" stroke="#141414" stroke-width="1.1" stroke-linejoin="round"/><line x1="357.54" y1="443.35" x2="352.05" y2="449.16" stroke="#141414" stroke-width="1.3"/><line x1="369.4" y1="410.6" x2="395.7" y2="435.3" stroke="#141414" stroke-width="1.45"/><path d="M388.20,422.77 L382.73,428.60 L379.63,420.21 Z" fill="none" stroke="#141414" stroke-width="1.1" stroke-linejoin="round"/><line x1="382.37" y1="417.3" x2="376.9" y2="423.13" stroke="#141414" stroke-width="1.3"/><line x1="370.4" y1="461" x2="395.7" y2="435.3" stroke="#141414" stroke-width="1.45"/><path d="M383.01,442.49 L388.71,448.11 L380.24,451.00 Z" fill="none" stroke="#141414" stroke-width="1.1" stroke-linejoin="round"/><line x1="377.39" y1="448.19" x2="383.09" y2="453.81" stroke="#141414" stroke-width="1.3"/><line x1="315.9892857142857" y1="462" x2="368" y2="461.5" stroke="#141414" stroke-width="1.45"/><polyline points="345,439.4 345,469 524,469" fill="none" stroke="#141414" stroke-width="1.45" stroke-linejoin="round"/><polyline points="395.7,432.9 395.7,422.6 407.5,422.6" fill="none" stroke="#141414" stroke-width="1.45" stroke-linejoin="round"/><line x1="407.5" y1="422.6" x2="407.5" y2="469" stroke="#141414" stroke-width="1.45"/><rect x="405.0" y="432.4" width="5" height="8.800000000000011" fill="#fff" stroke="#141414" stroke-width="1.1"/><path d="M403,456.5 L412,456.5 L407.5,449.5 Z" fill="#141414"/><line x1="403" y1="449.2" x2="412" y2="449.2" stroke="#141414" stroke-width="1.4"/><line x1="394.5" y1="459" x2="399.5" y2="453" stroke="#141414" stroke-width="1.1"/><line x1="397.5" y1="461" x2="402" y2="455" stroke="#141414" stroke-width="1.1"/><polyline points="431,398.5 431,469" fill="none" stroke="#141414" stroke-width="1.45" stroke-linejoin="round"/><rect x="426.5" y="443.5" width="9" height="3" fill="#fff"/><line x1="426.5" y1="443.5" x2="435.5" y2="443.5" stroke="#141414" stroke-width="1.4"/><rect x="426.5" y="445.9" width="9" height="2" fill="#fff" stroke="#141414" stroke-width="1.1"/><line x1="431" y1="398.5" x2="586.6" y2="398.5" stroke="#141414" stroke-width="1.45"/><line x1="407.5" y1="422.6" x2="549.6" y2="422.6" stroke="#141414" stroke-width="1.45"/><rect x="447" y="420.1" width="10.600000000000023" height="5" fill="#fff" stroke="#141414" stroke-width="1.1"/><polyline points="505,422.6 505,413 586.6,413" fill="none" stroke="#141414" stroke-width="1.45" stroke-linejoin="round"/><line x1="468" y1="422.6" x2="468" y2="469" stroke="#141414" stroke-width="1.45"/><rect x="465.5" y="438" width="5" height="9.600000000000023" fill="#fff" stroke="#141414" stroke-width="1.1"/><rect x="465.5" y="455" width="5" height="8.600000000000023" fill="#fff" stroke="#141414" stroke-width="1.1"/><polyline points="472,441.8 505,441.8 505,422.6" fill="none" stroke="#141414" stroke-width="1.45" stroke-linejoin="round"/><path d="M471,441.8 L475,439.8 L475,443.8 Z" fill="#141414"/><line x1="492" y1="422.6" x2="492" y2="441.8" stroke="#141414" stroke-width="1.45"/><rect x="489.5" y="424.5" width="5" height="12.5" fill="#fff" stroke="#141414" stroke-width="1.1"/><line x1="524" y1="422.6" x2="524" y2="469" stroke="#141414" stroke-width="1.45"/><rect x="521.5" y="437.8" width="5" height="9.800000000000011" fill="#fff" stroke="#141414" stroke-width="1.1"/><rect x="521.5" y="455" width="5" height="9" fill="#fff" stroke="#141414" stroke-width="1.1"/><polyline points="528,441.8 586.6,441.8" fill="none" stroke="#141414" stroke-width="1.45" stroke-linejoin="round"/><path d="M527,441.8 L531,439.8 L531,443.8 Z" fill="#141414"/><line x1="549.5" y1="422.6" x2="549.5" y2="441.8" stroke="#141414" stroke-width="1.45"/><rect x="547.0" y="424.5" width="5" height="12.5" fill="#fff" stroke="#141414" stroke-width="1.1"/><line x1="524" y1="469" x2="524" y2="472" stroke="#141414" stroke-width="1.45"/><line x1="518.5" y1="472.5" x2="529.5" y2="472.5" stroke="#141414" stroke-width="1.6"/><circle cx="468" cy="422.6" r="1.6" fill="#141414"/><circle cx="492" cy="422.6" r="1.6" fill="#141414"/><circle cx="524" cy="422.6" r="1.6" fill="#141414"/><circle cx="549.5" cy="422.6" r="1.6" fill="#141414"/><circle cx="492" cy="441.8" r="1.6" fill="#141414"/><circle cx="549.5" cy="441.8" r="1.6" fill="#141414"/><circle cx="407.5" cy="469" r="1.6" fill="#141414"/><circle cx="431" cy="469" r="1.6" fill="#141414"/><circle cx="468" cy="469" r="1.6" fill="#141414"/><text x="342" y="408.5" font-family="Liberation Sans" font-size="10.42" font-weight="normal" font-style="normal" fill="#141414" textLength="36.0" lengthAdjust="spacingAndGlyphs" stroke="#141414" stroke-width="0.45">S10VB60</text><line x1="398" y1="431.8" x2="401" y2="431.8" stroke="#141414" stroke-width="1.2"/><text x="322" y="440" font-family="Liberation Sans" font-size="11.11" font-weight="normal" font-style="normal" fill="#141414" textLength="16.0" lengthAdjust="spacingAndGlyphs" stroke="#141414" stroke-width="0.45">140V</text><text x="436" y="417" font-family="Liberation Sans" font-size="9.72" font-weight="normal" font-style="italic" fill="#141414" textLength="24.0" lengthAdjust="spacingAndGlyphs" stroke="#141414" stroke-width="0.45">27K2W</text><text x="465" y="420" font-family="Liberation Sans" font-size="9.03" font-weight="normal" font-style="normal" fill="#141414" textLength="29.0" lengthAdjust="spacingAndGlyphs" stroke="#141414" stroke-width="0.45">-47.5V</text><text x="472" y="439" font-family="Liberation Sans" font-size="8.33" font-weight="normal" font-style="normal" fill="#141414" textLength="12.0" lengthAdjust="spacingAndGlyphs" stroke="#141414" stroke-width="0.45">10K</text><text x="471" y="453" font-family="Liberation Sans" font-size="8.33" font-weight="normal" font-style="normal" fill="#141414" textLength="14.0" lengthAdjust="spacingAndGlyphs" stroke="#141414" stroke-width="0.45">1.6W</text><text x="472" y="463" font-family="Liberation Sans" font-size="9.72" font-weight="normal" font-style="normal" fill="#141414" textLength="14.0" lengthAdjust="spacingAndGlyphs" stroke="#141414" stroke-width="0.45">10K</text><text x="495" y="434" font-family="Liberation Sans" font-size="8.33" font-weight="normal" font-style="normal" fill="#141414" textLength="10.0" lengthAdjust="spacingAndGlyphs" stroke="#141414" stroke-width="0.45">20K</text><text x="527" y="439" font-family="Liberation Sans" font-size="8.33" font-weight="normal" font-style="normal" fill="#141414" textLength="13.0" lengthAdjust="spacingAndGlyphs" stroke="#141414" stroke-width="0.45">10K</text><text x="528" y="453" font-family="Liberation Sans" font-size="8.33" font-weight="normal" font-style="normal" fill="#141414" textLength="15.0" lengthAdjust="spacingAndGlyphs" stroke="#141414" stroke-width="0.45">1.6W</text><text x="531" y="463" font-family="Liberation Sans" font-size="9.72" font-weight="normal" font-style="normal" fill="#141414" textLength="14.0" lengthAdjust="spacingAndGlyphs" stroke="#141414" stroke-width="0.45">10K</text><text x="553" y="434" font-family="Liberation Sans" font-size="8.33" font-weight="normal" font-style="normal" fill="#141414" textLength="12.0" lengthAdjust="spacingAndGlyphs" stroke="#141414" stroke-width="0.45">20K</text><text x="593.5" y="401.8" font-family="Liberation Sans" font-size="8.75" font-weight="normal" font-style="normal" fill="#141414" textLength="9.7" lengthAdjust="spacingAndGlyphs" stroke="#141414" stroke-width="0.45">D2</text><text x="594" y="415.5" font-family="Liberation Sans" font-size="9.03" font-weight="normal" font-style="normal" fill="#141414" textLength="44.5" lengthAdjust="spacingAndGlyphs" stroke="#141414" stroke-width="0.45">C3 -33.8V</text><text x="594" y="442.5" font-family="Liberation Sans" font-size="9.03" font-weight="normal" font-style="normal" fill="#141414" textLength="44.5" lengthAdjust="spacingAndGlyphs" stroke="#141414" stroke-width="0.45">C4 -33.8V</text><circle cx="167.8" cy="35.1" r="2.4" fill="#fff" stroke="#141414" stroke-width="1.1"/><circle cx="192.5" cy="34.8" r="2.4" fill="#fff" stroke="#141414" stroke-width="1.1"/><circle cx="209.4" cy="34.3" r="2.4" fill="#fff" stroke="#141414" stroke-width="1.1"/><circle cx="247.5" cy="34.0" r="2.4" fill="#fff" stroke="#141414" stroke-width="1.1"/><circle cx="259.9" cy="25.4" r="2.4" fill="#fff" stroke="#141414" stroke-width="1.1"/><circle cx="259.9" cy="40.3" r="2.4" fill="#fff" stroke="#141414" stroke-width="1.1"/><circle cx="170" cy="105.2" r="2.4" fill="#fff" stroke="#141414" stroke-width="1.1"/><circle cx="259" cy="318" r="2.2" fill="#fff" stroke="#141414" stroke-width="1.1"/><circle cx="259" cy="345" r="2.2" fill="#fff" stroke="#141414" stroke-width="1.1"/><circle cx="259" cy="349.5" r="2.2" fill="#fff" stroke="#141414" stroke-width="1.1"/><circle cx="259" cy="378" r="2.2" fill="#fff" stroke="#141414" stroke-width="1.1"/><circle cx="259" cy="383.5" r="2.2" fill="#fff" stroke="#141414" stroke-width="1.1"/><circle cx="259" cy="412" r="2.2" fill="#fff" stroke="#141414" stroke-width="1.1"/><circle cx="259" cy="417.4" r="2.2" fill="#fff" stroke="#141414" stroke-width="1.1"/><circle cx="259" cy="446" r="2.2" fill="#fff" stroke="#141414" stroke-width="1.1"/><circle cx="260.8" cy="411.8" r="2.2" fill="#fff" stroke="#141414" stroke-width="1.1"/><circle cx="360" cy="24" r="2.2" fill="#fff" stroke="#141414" stroke-width="1.1"/><circle cx="335" cy="50" r="2.2" fill="#fff" stroke="#141414" stroke-width="1.1"/><circle cx="385.5" cy="49" r="2.2" fill="#fff" stroke="#141414" stroke-width="1.1"/><circle cx="361" cy="74" r="2.2" fill="#fff" stroke="#141414" stroke-width="1.1"/><circle cx="311.5" cy="70" r="2.2" fill="#fff" stroke="#141414" stroke-width="1.1"/><circle cx="312" cy="85" r="2.2" fill="#fff" stroke="#141414" stroke-width="1.1"/><circle cx="362.5" cy="99" r="2.2" fill="#fff" stroke="#141414" stroke-width="1.1"/><circle cx="337" cy="126" r="2.2" fill="#fff" stroke="#141414" stroke-width="1.1"/><circle cx="388" cy="125" r="2.2" fill="#fff" stroke="#141414" stroke-width="1.1"/><circle cx="363" cy="151" r="2.2" fill="#fff" stroke="#141414" stroke-width="1.1"/><circle cx="314.3" cy="142.4" r="2.2" fill="#fff" stroke="#141414" stroke-width="1.1"/><circle cx="314.3" cy="160.2" r="2.2" fill="#fff" stroke="#141414" stroke-width="1.1"/><circle cx="364.5" cy="182" r="2.2" fill="#fff" stroke="#141414" stroke-width="1.1"/><circle cx="339" cy="208" r="2.2" fill="#fff" stroke="#141414" stroke-width="1.1"/><circle cx="390" cy="207" r="2.2" fill="#fff" stroke="#141414" stroke-width="1.1"/><circle cx="365.5" cy="233" r="2.2" fill="#fff" stroke="#141414" stroke-width="1.1"/><circle cx="366" cy="258" r="2.2" fill="#fff" stroke="#141414" stroke-width="1.1"/><circle cx="341" cy="284" r="2.2" fill="#fff" stroke="#141414" stroke-width="1.1"/><circle cx="392" cy="283" r="2.2" fill="#fff" stroke="#141414" stroke-width="1.1"/><circle cx="367" cy="310" r="2.2" fill="#fff" stroke="#141414" stroke-width="1.1"/><circle cx="367.5" cy="334" r="2.2" fill="#fff" stroke="#141414" stroke-width="1.1"/><circle cx="342.5" cy="360.5" r="2.2" fill="#fff" stroke="#141414" stroke-width="1.1"/><circle cx="394" cy="359" r="2.2" fill="#fff" stroke="#141414" stroke-width="1.1"/><circle cx="369.5" cy="386" r="2.2" fill="#fff" stroke="#141414" stroke-width="1.1"/><circle cx="589" cy="320.5" r="2.4" fill="#fff" stroke="#141414" stroke-width="1.1"/><circle cx="589" cy="335.5" r="2.4" fill="#fff" stroke="#141414" stroke-width="1.1"/><circle cx="589" cy="366" r="2.4" fill="#fff" stroke="#141414" stroke-width="1.1"/><circle cx="369.4" cy="410.6" r="2.2" fill="#fff" stroke="#141414" stroke-width="1.1"/><circle cx="345" cy="437" r="2.2" fill="#fff" stroke="#141414" stroke-width="1.1"/><circle cx="395.7" cy="435.3" r="2.2" fill="#fff" stroke="#141414" stroke-width="1.1"/><circle cx="370.4" cy="461" r="2.2" fill="#fff" stroke="#141414" stroke-width="1.1"/><circle cx="589" cy="398.5" r="2.4" fill="#fff" stroke="#141414" stroke-width="1.1"/><circle cx="589" cy="413" r="2.4" fill="#fff" stroke="#141414" stroke-width="1.1"/><circle cx="589" cy="441.8" r="2.4" fill="#fff" stroke="#141414" stroke-width="1.1"/><text x="219.50 230.50 241.50 252.50 263.50 274.50 285.50 296.50 307.50 318.50 329.50 340.50 351.50 362.50" y="437.5" text-anchor="middle" font-family="Liberation Serif" font-size="21" font-weight="normal" fill="#858585" opacity="1">www.haodiy.net</text><text x="217.35 225.05 232.75 240.45 248.15 255.85 263.55 271.25 278.95 286.65 294.35 302.05 309.75 317.45 325.15 332.85 340.55 348.25 355.95 363.65 371.35 379.05 386.75" y="452" text-anchor="middle" font-family="Liberation Sans" font-size="12.7" font-weight="bold" fill="#6a6a6a" opacity="0.9">shop35392304.taobao.com</text><g fill="none" stroke="#8e8e8e" stroke-width="1.1" stroke-linecap="round" stroke-linejoin="round"><polyline points="214.50,462.00 220.70,462.00"/><polyline points="217.60,457.80 217.60,471.80 216.05,470.40"/><polyline points="214.50,468.30 220.70,465.50"/><polyline points="222.25,459.20 228.45,459.20 228.45,471.10 222.25,471.10"/><polyline points="223.03,464.80 228.45,464.80"/></g><g fill="none" stroke="#8e8e8e" stroke-width="1.1" stroke-linecap="round" stroke-linejoin="round"><polyline points="232.20,462.00 238.40,462.00"/><polyline points="235.30,457.80 235.30,471.80 233.75,470.40"/><polyline points="232.20,468.30 238.40,465.50"/><polyline points="239.17,459.90 247.70,459.90"/><polyline points="241.50,457.80 241.50,462.00"/><polyline points="245.38,457.80 245.38,462.00"/><polyline points="239.95,463.40 246.92,463.40 246.92,471.80 239.95,471.80 239.95,463.40"/><polyline points="239.95,467.60 246.92,467.60"/><polyline points="243.36,463.40 243.36,471.80"/></g><g fill="none" stroke="#8e8e8e" stroke-width="1.1" stroke-linecap="round" stroke-linejoin="round"><polyline points="253.00,461.30 262.30,461.30"/><polyline points="250.67,469.70 264.62,469.70"/></g><g fill="none" stroke="#8e8e8e" stroke-width="1.1" stroke-linecap="round" stroke-linejoin="round"><polyline points="271.47,457.80 268.37,462.00 272.25,462.00 268.37,466.90 273.02,465.50"/><polyline points="268.37,471.10 273.02,469.00"/><polyline points="276.90,457.80 274.57,462.70"/><polyline points="275.35,461.30 275.35,471.80"/><polyline points="279.22,458.50 280.00,460.60"/><polyline points="275.35,461.30 282.32,461.30"/><polyline points="275.35,464.52 281.55,464.52"/><polyline points="275.35,467.60 281.55,467.60"/><polyline points="275.35,471.10 283.10,471.10"/><polyline points="278.76,461.30 278.76,471.10"/></g><g fill="none" stroke="#8e8e8e" stroke-width="1.1" stroke-linecap="round" stroke-linejoin="round"><polyline points="286.07,459.20 291.50,459.20"/><polyline points="288.40,459.20 286.07,465.50"/><polyline points="287.62,464.10 291.50,464.10 291.50,469.70 287.62,469.70 287.62,464.10"/><polyline points="293.05,459.20 298.47,459.20 297.70,464.10"/><polyline points="293.82,459.20 293.36,464.80 300.02,464.80 299.25,471.80 297.70,471.10"/><polyline points="293.05,468.30 297.70,468.30"/></g><g fill="none" stroke="#8e8e8e" stroke-width="1.1" stroke-linecap="round" stroke-linejoin="round"><polyline points="304.55,459.20 316.95,459.20 310.75,464.10"/><polyline points="310.75,463.40 310.75,471.80 308.42,470.40"/></g><g fill="none" stroke="#8e8e8e" stroke-width="1.1" stroke-linecap="round" stroke-linejoin="round"><polyline points="323.80,457.80 321.47,461.30"/><polyline points="323.80,459.20 326.90,459.20 326.12,460.60"/><polyline points="322.25,461.30 326.90,461.30 326.90,471.80 325.35,471.10"/><polyline points="322.25,461.30 322.25,467.60 320.70,471.80"/><polyline points="322.25,464.80 326.90,464.80"/><polyline points="322.25,467.60 326.90,467.60"/><polyline points="324.57,461.30 324.57,470.40"/><polyline points="328.45,458.50 334.65,458.50 333.87,462.00"/><polyline points="330.77,458.50 328.45,463.40"/><polyline points="328.45,465.50 336.20,465.50"/><polyline points="328.45,468.30 336.20,468.30"/><polyline points="332.32,464.10 332.32,471.80"/></g><g fill="none" stroke="#8e8e8e" stroke-width="1.1" stroke-linecap="round" stroke-linejoin="round"><polyline points="339.17,459.20 353.12,459.20"/><polyline points="341.50,461.30 350.80,461.30 350.80,466.90 341.50,466.90 341.50,461.30"/><polyline points="341.50,464.10 350.80,464.10"/><polyline points="346.15,459.20 346.15,466.90 339.95,471.80"/><polyline points="343.05,467.60 353.12,471.80"/></g><g fill="none" stroke="#8e8e8e" stroke-width="1.1" stroke-linecap="round" stroke-linejoin="round"><polyline points="362.30,457.80 359.20,461.30"/><polyline points="361.52,459.20 366.95,459.20 358.42,464.80"/><polyline points="360.75,461.30 362.30,462.70"/><polyline points="365.40,463.40 362.30,466.90"/><polyline points="364.62,464.80 370.05,464.80 357.65,471.80"/><polyline points="363.85,467.60 365.40,469.00"/></g><g fill="none" stroke="#8e8e8e" stroke-width="1.1" stroke-linecap="round" stroke-linejoin="round"><polyline points="376.90,457.80 375.35,460.60"/><polyline points="375.35,460.60 383.10,460.60"/><polyline points="374.57,463.40 383.87,463.40"/><polyline points="379.22,457.80 379.22,471.80"/><polyline points="376.12,466.20 376.12,470.40"/><polyline points="376.12,466.20 382.32,466.20 382.32,470.40"/><polyline points="385.42,459.90 385.42,468.30"/><polyline points="388.52,457.80 388.52,471.80 386.97,471.10"/></g><g fill="none" stroke="#8e8e8e" stroke-width="1.1" stroke-linecap="round" stroke-linejoin="round"><polyline points="395.37,457.80 392.27,463.40"/><polyline points="393.82,462.00 393.82,471.80"/><polyline points="399.25,457.80 396.92,463.40"/><polyline points="398.47,460.60 407.00,460.60"/><polyline points="399.25,460.60 399.25,471.80"/><polyline points="399.25,464.80 405.45,464.80"/><polyline points="399.25,468.30 405.45,468.30"/></g><rect x="415.5" y="423.5" width="52" height="52" fill="#fff" opacity="0.55"/><path d="M416.5,424.5h2v2h-2zM418.5,424.5h2v2h-2zM420.5,424.5h2v2h-2zM422.5,424.5h2v2h-2zM424.5,424.5h2v2h-2zM426.5,424.5h2v2h-2zM428.5,424.5h2v2h-2zM432.5,424.5h2v2h-2zM434.5,424.5h2v2h-2zM436.5,424.5h2v2h-2zM438.5,424.5h2v2h-2zM440.5,424.5h2v2h-2zM444.5,424.5h2v2h-2zM446.5,424.5h2v2h-2zM452.5,424.5h2v2h-2zM454.5,424.5h2v2h-2zM456.5,424.5h2v2h-2zM458.5,424.5h2v2h-2zM460.5,424.5h2v2h-2zM462.5,424.5h2v2h-2zM464.5,424.5h2v2h-2zM416.5,426.5h2v2h-2zM428.5,426.5h2v2h-2zM432.5,426.5h2v2h-2zM434.5,426.5h2v2h-2zM436.5,426.5h2v2h-2zM440.5,426.5h2v2h-2zM442.5,426.5h2v2h-2zM446.5,426.5h2v2h-2zM448.5,426.5h2v2h-2zM452.5,426.5h2v2h-2zM464.5,426.5h2v2h-2zM416.5,428.5h2v2h-2zM420.5,428.5h2v2h-2zM422.5,428.5h2v2h-2zM424.5,428.5h2v2h-2zM428.5,428.5h2v2h-2zM438.5,428.5h2v2h-2zM446.5,428.5h2v2h-2zM452.5,428.5h2v2h-2zM456.5,428.5h2v2h-2zM458.5,428.5h2v2h-2zM460.5,428.5h2v2h-2zM464.5,428.5h2v2h-2zM416.5,430.5h2v2h-2zM420.5,430.5h2v2h-2zM422.5,430.5h2v2h-2zM424.5,430.5h2v2h-2zM428.5,430.5h2v2h-2zM434.5,430.5h2v2h-2zM436.5,430.5h2v2h-2zM438.5,430.5h2v2h-2zM442.5,430.5h2v2h-2zM444.5,430.5h2v2h-2zM452.5,430.5h2v2h-2zM456.5,430.5h2v2h-2zM458.5,430.5h2v2h-2zM460.5,430.5h2v2h-2zM464.5,430.5h2v2h-2zM416.5,432.5h2v2h-2zM420.5,432.5h2v2h-2zM422.5,432.5h2v2h-2zM424.5,432.5h2v2h-2zM428.5,432.5h2v2h-2zM432.5,432.5h2v2h-2zM446.5,432.5h2v2h-2zM452.5,432.5h2v2h-2zM456.5,432.5h2v2h-2zM458.5,432.5h2v2h-2zM460.5,432.5h2v2h-2zM464.5,432.5h2v2h-2zM416.5,434.5h2v2h-2zM428.5,434.5h2v2h-2zM432.5,434.5h2v2h-2zM434.5,434.5h2v2h-2zM440.5,434.5h2v2h-2zM442.5,434.5h2v2h-2zM444.5,434.5h2v2h-2zM446.5,434.5h2v2h-2zM448.5,434.5h2v2h-2zM452.5,434.5h2v2h-2zM464.5,434.5h2v2h-2zM416.5,436.5h2v2h-2zM418.5,436.5h2v2h-2zM420.5,436.5h2v2h-2zM422.5,436.5h2v2h-2zM424.5,436.5h2v2h-2zM426.5,436.5h2v2h-2zM428.5,436.5h2v2h-2zM440.5,436.5h2v2h-2zM442.5,436.5h2v2h-2zM444.5,436.5h2v2h-2zM452.5,436.5h2v2h-2zM454.5,436.5h2v2h-2zM456.5,436.5h2v2h-2zM458.5,436.5h2v2h-2zM460.5,436.5h2v2h-2zM462.5,436.5h2v2h-2zM464.5,436.5h2v2h-2zM436.5,438.5h2v2h-2zM444.5,438.5h2v2h-2zM446.5,438.5h2v2h-2zM448.5,438.5h2v2h-2zM416.5,440.5h2v2h-2zM426.5,440.5h2v2h-2zM428.5,440.5h2v2h-2zM432.5,440.5h2v2h-2zM438.5,440.5h2v2h-2zM440.5,440.5h2v2h-2zM446.5,440.5h2v2h-2zM448.5,440.5h2v2h-2zM450.5,440.5h2v2h-2zM456.5,440.5h2v2h-2zM464.5,440.5h2v2h-2zM418.5,442.5h2v2h-2zM420.5,442.5h2v2h-2zM430.5,442.5h2v2h-2zM436.5,442.5h2v2h-2zM438.5,442.5h2v2h-2zM440.5,442.5h2v2h-2zM442.5,442.5h2v2h-2zM446.5,442.5h2v2h-2zM448.5,442.5h2v2h-2zM450.5,442.5h2v2h-2zM454.5,442.5h2v2h-2zM456.5,442.5h2v2h-2zM462.5,442.5h2v2h-2zM422.5,444.5h2v2h-2zM424.5,444.5h2v2h-2zM426.5,444.5h2v2h-2zM428.5,444.5h2v2h-2zM432.5,444.5h2v2h-2zM434.5,444.5h2v2h-2zM440.5,444.5h2v2h-2zM448.5,444.5h2v2h-2zM452.5,444.5h2v2h-2zM454.5,444.5h2v2h-2zM416.5,446.5h2v2h-2zM426.5,446.5h2v2h-2zM430.5,446.5h2v2h-2zM440.5,446.5h2v2h-2zM448.5,446.5h2v2h-2zM450.5,446.5h2v2h-2zM452.5,446.5h2v2h-2zM454.5,446.5h2v2h-2zM456.5,446.5h2v2h-2zM458.5,446.5h2v2h-2zM416.5,448.5h2v2h-2zM422.5,448.5h2v2h-2zM428.5,448.5h2v2h-2zM432.5,448.5h2v2h-2zM434.5,448.5h2v2h-2zM440.5,448.5h2v2h-2zM442.5,448.5h2v2h-2zM446.5,448.5h2v2h-2zM448.5,448.5h2v2h-2zM450.5,448.5h2v2h-2zM454.5,448.5h2v2h-2zM458.5,448.5h2v2h-2zM460.5,448.5h2v2h-2zM462.5,448.5h2v2h-2zM418.5,450.5h2v2h-2zM426.5,450.5h2v2h-2zM428.5,450.5h2v2h-2zM430.5,450.5h2v2h-2zM434.5,450.5h2v2h-2zM436.5,450.5h2v2h-2zM438.5,450.5h2v2h-2zM444.5,450.5h2v2h-2zM446.5,450.5h2v2h-2zM454.5,450.5h2v2h-2zM456.5,450.5h2v2h-2zM460.5,450.5h2v2h-2zM462.5,450.5h2v2h-2zM420.5,452.5h2v2h-2zM424.5,452.5h2v2h-2zM428.5,452.5h2v2h-2zM430.5,452.5h2v2h-2zM436.5,452.5h2v2h-2zM438.5,452.5h2v2h-2zM442.5,452.5h2v2h-2zM444.5,452.5h2v2h-2zM446.5,452.5h2v2h-2zM448.5,452.5h2v2h-2zM450.5,452.5h2v2h-2zM452.5,452.5h2v2h-2zM454.5,452.5h2v2h-2zM458.5,452.5h2v2h-2zM462.5,452.5h2v2h-2zM464.5,452.5h2v2h-2zM416.5,454.5h2v2h-2zM418.5,454.5h2v2h-2zM420.5,454.5h2v2h-2zM426.5,454.5h2v2h-2zM428.5,454.5h2v2h-2zM432.5,454.5h2v2h-2zM436.5,454.5h2v2h-2zM438.5,454.5h2v2h-2zM442.5,454.5h2v2h-2zM450.5,454.5h2v2h-2zM458.5,454.5h2v2h-2zM460.5,454.5h2v2h-2zM462.5,454.5h2v2h-2zM464.5,454.5h2v2h-2zM416.5,456.5h2v2h-2zM420.5,456.5h2v2h-2zM422.5,456.5h2v2h-2zM424.5,456.5h2v2h-2zM432.5,456.5h2v2h-2zM434.5,456.5h2v2h-2zM436.5,456.5h2v2h-2zM438.5,456.5h2v2h-2zM440.5,456.5h2v2h-2zM442.5,456.5h2v2h-2zM444.5,456.5h2v2h-2zM448.5,456.5h2v2h-2zM450.5,456.5h2v2h-2zM452.5,456.5h2v2h-2zM454.5,456.5h2v2h-2zM456.5,456.5h2v2h-2zM458.5,456.5h2v2h-2zM460.5,456.5h2v2h-2zM462.5,456.5h2v2h-2zM464.5,456.5h2v2h-2zM432.5,458.5h2v2h-2zM434.5,458.5h2v2h-2zM436.5,458.5h2v2h-2zM448.5,458.5h2v2h-2zM456.5,458.5h2v2h-2zM462.5,458.5h2v2h-2zM416.5,460.5h2v2h-2zM418.5,460.5h2v2h-2zM420.5,460.5h2v2h-2zM422.5,460.5h2v2h-2zM424.5,460.5h2v2h-2zM426.5,460.5h2v2h-2zM428.5,460.5h2v2h-2zM444.5,460.5h2v2h-2zM446.5,460.5h2v2h-2zM448.5,460.5h2v2h-2zM452.5,460.5h2v2h-2zM456.5,460.5h2v2h-2zM464.5,460.5h2v2h-2zM416.5,462.5h2v2h-2zM428.5,462.5h2v2h-2zM432.5,462.5h2v2h-2zM434.5,462.5h2v2h-2zM436.5,462.5h2v2h-2zM440.5,462.5h2v2h-2zM446.5,462.5h2v2h-2zM448.5,462.5h2v2h-2zM456.5,462.5h2v2h-2zM460.5,462.5h2v2h-2zM462.5,462.5h2v2h-2zM464.5,462.5h2v2h-2zM416.5,464.5h2v2h-2zM420.5,464.5h2v2h-2zM422.5,464.5h2v2h-2zM424.5,464.5h2v2h-2zM428.5,464.5h2v2h-2zM434.5,464.5h2v2h-2zM438.5,464.5h2v2h-2zM440.5,464.5h2v2h-2zM442.5,464.5h2v2h-2zM446.5,464.5h2v2h-2zM448.5,464.5h2v2h-2zM450.5,464.5h2v2h-2zM452.5,464.5h2v2h-2zM454.5,464.5h2v2h-2zM456.5,464.5h2v2h-2zM460.5,464.5h2v2h-2zM462.5,464.5h2v2h-2zM464.5,464.5h2v2h-2zM416.5,466.5h2v2h-2zM420.5,466.5h2v2h-2zM422.5,466.5h2v2h-2zM424.5,466.5h2v2h-2zM428.5,466.5h2v2h-2zM438.5,466.5h2v2h-2zM442.5,466.5h2v2h-2zM444.5,466.5h2v2h-2zM446.5,466.5h2v2h-2zM448.5,466.5h2v2h-2zM450.5,466.5h2v2h-2zM452.5,466.5h2v2h-2zM454.5,466.5h2v2h-2zM456.5,466.5h2v2h-2zM458.5,466.5h2v2h-2zM462.5,466.5h2v2h-2zM416.5,468.5h2v2h-2zM420.5,468.5h2v2h-2zM422.5,468.5h2v2h-2zM424.5,468.5h2v2h-2zM428.5,468.5h2v2h-2zM436.5,468.5h2v2h-2zM438.5,468.5h2v2h-2zM440.5,468.5h2v2h-2zM442.5,468.5h2v2h-2zM444.5,468.5h2v2h-2zM448.5,468.5h2v2h-2zM452.5,468.5h2v2h-2zM454.5,468.5h2v2h-2zM458.5,468.5h2v2h-2zM460.5,468.5h2v2h-2zM416.5,470.5h2v2h-2zM428.5,470.5h2v2h-2zM432.5,470.5h2v2h-2zM438.5,470.5h2v2h-2zM440.5,470.5h2v2h-2zM444.5,470.5h2v2h-2zM446.5,470.5h2v2h-2zM448.5,470.5h2v2h-2zM450.5,470.5h2v2h-2zM456.5,470.5h2v2h-2zM460.5,470.5h2v2h-2zM464.5,470.5h2v2h-2zM416.5,472.5h2v2h-2zM418.5,472.5h2v2h-2zM420.5,472.5h2v2h-2zM422.5,472.5h2v2h-2zM424.5,472.5h2v2h-2zM426.5,472.5h2v2h-2zM428.5,472.5h2v2h-2zM432.5,472.5h2v2h-2zM434.5,472.5h2v2h-2zM436.5,472.5h2v2h-2zM438.5,472.5h2v2h-2zM440.5,472.5h2v2h-2zM442.5,472.5h2v2h-2zM444.5,472.5h2v2h-2zM446.5,472.5h2v2h-2zM454.5,472.5h2v2h-2zM456.5,472.5h2v2h-2zM460.5,472.5h2v2h-2zM462.5,472.5h2v2h-2zM464.5,472.5h2v2h-2z" fill="#555" opacity="0.75"/><g fill="none" stroke="#173a70" stroke-width="2.9" stroke-linecap="square" stroke-linejoin="miter"><polyline points="573.54,448.24 580.57,448.24"/><polyline points="574.46,448.24 574.46,463.90"/><polyline points="578.16,452.92 578.16,463.90"/><polyline points="584.45,448.24 584.45,463.90"/><polyline points="584.45,448.24 590.93,448.24"/><polyline points="588.71,445.72 588.71,447.16"/></g><g fill="none" stroke="#173a70" stroke-width="2.9" stroke-linecap="square" stroke-linejoin="miter"><polyline points="594.14,448.24 611.16,448.24"/><polyline points="595.06,448.24 595.06,463.90"/><polyline points="600.62,453.28 610.61,453.28 610.61,463.54 600.62,463.54 600.62,453.28"/></g><g fill="none" stroke="#173a70" stroke-width="2.9" stroke-linecap="square" stroke-linejoin="miter"><polyline points="615.48,451.48 615.48,463.54"/><polyline points="615.48,462.28 621.22,462.28"/><polyline points="621.22,446.80 621.22,464.80"/><polyline points="625.65,446.80 624.36,451.48"/><polyline points="624.36,449.86 632.13,449.86"/><polyline points="625.47,454.00 632.13,464.08"/><polyline points="631.76,454.00 624.73,464.08"/></g><g fill="none" stroke="#173a70" stroke-width="2.9" stroke-linecap="square" stroke-linejoin="miter"><polyline points="643.85,446.26 643.85,448.24"/><polyline points="636.82,449.32 650.88,449.32"/><polyline points="640.15,451.12 641.26,453.28"/><polyline points="647.55,451.12 646.44,453.28"/><polyline points="634.97,454.72 652.73,454.72"/><polyline points="637.56,457.60 650.14,457.60 650.14,463.90 637.56,463.90 637.56,457.60"/><polyline points="637.56,460.84 650.14,460.84"/></g><g fill="none" stroke="#173a70" stroke-width="2.9" stroke-linecap="square" stroke-linejoin="miter"><polyline points="655.57,451.84 662.97,451.84"/><polyline points="659.27,446.80 659.27,464.80"/><polyline points="659.27,454.36 655.57,461.92"/><polyline points="659.64,455.44 662.60,458.32"/><polyline points="665.56,448.60 665.56,460.48 664.27,464.44"/><polyline points="665.56,448.60 670.74,448.60 670.74,463.36 673.52,463.36 673.52,460.48"/></g><text x="573" y="480" font-family="Liberation Sans" font-size="11.2" font-weight="bold" font-style="normal" fill="#1d3564" textLength="101.5" lengthAdjust="spacingAndGlyphs" >www.crystalradio.cn</text>
</svg></body></html>
